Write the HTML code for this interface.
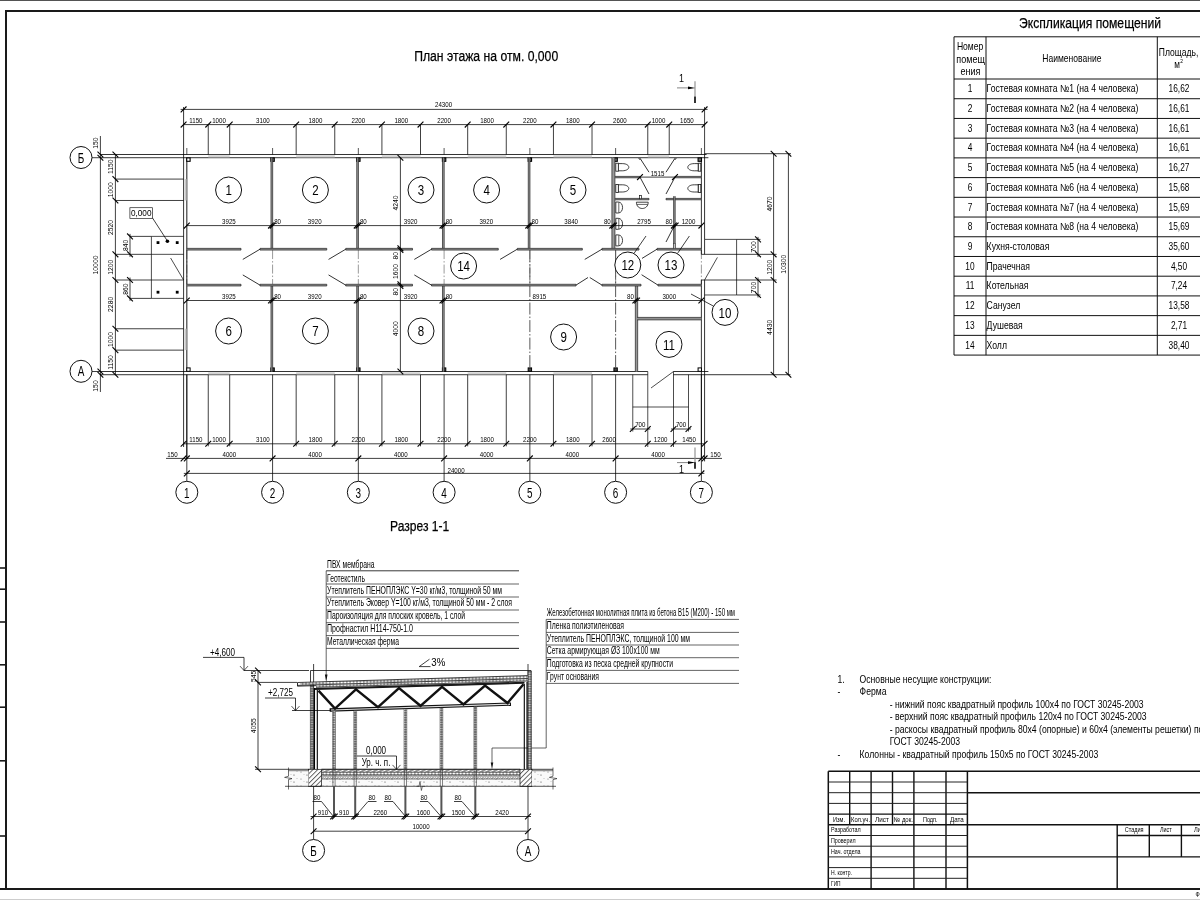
<!DOCTYPE html>
<html lang="ru"><head><meta charset="utf-8"><title>План этажа</title>
<style>
html,body{margin:0;padding:0;background:#fff;}
body{width:1200px;height:900px;overflow:hidden;}
svg{display:block;will-change:transform;font-family:"Liberation Sans",sans-serif;}
</style></head><body>
<svg width="1200" height="900" viewBox="0 0 1200 900">
<rect x="0" y="0" width="1200" height="900" fill="#fff"/>
<g id="frame">
<line x1="0" y1="0.45" x2="1200" y2="0.45" stroke="#333" stroke-width="0.9"/>
<line x1="0" y1="899.6" x2="1200" y2="899.6" stroke="#c8c8c8" stroke-width="1"/>
<path d="M6 889 L6 11.1 L1200 11.1" stroke="#1a1a1a" stroke-width="2" fill="none"/>
<line x1="0" y1="889" x2="1200" y2="889" stroke="#1a1a1a" stroke-width="2"/>
<line x1="0" y1="568" x2="6" y2="568" stroke="#1a1a1a" stroke-width="1.6"/>
<line x1="0" y1="589.2" x2="6" y2="589.2" stroke="#1a1a1a" stroke-width="1.6"/>
<line x1="0" y1="622" x2="6" y2="622" stroke="#1a1a1a" stroke-width="1.6"/>
<line x1="0" y1="664.8" x2="6" y2="664.8" stroke="#1a1a1a" stroke-width="1.6"/>
<line x1="0" y1="707.2" x2="6" y2="707.2" stroke="#1a1a1a" stroke-width="1.6"/>
<line x1="0" y1="760.8" x2="6" y2="760.8" stroke="#1a1a1a" stroke-width="1.6"/>
<line x1="0" y1="836" x2="6" y2="836" stroke="#1a1a1a" stroke-width="1.6"/>
</g>
<g id="titles">
<text x="414.2" y="60.6" font-size="15.2" textLength="144" lengthAdjust="spacingAndGlyphs" fill="#000" stroke="#000" stroke-width="0.25">План этажа на отм. 0,000</text>
<text x="390" y="531" font-size="15.2" textLength="59.3" lengthAdjust="spacingAndGlyphs" fill="#000" stroke="#000" stroke-width="0.25">Разрез 1-1</text>
<text x="1019" y="27.9" font-size="15" textLength="142" lengthAdjust="spacingAndGlyphs" fill="#000" stroke="#000" stroke-width="0.25">Экспликация помещений</text>
</g>
<g id="plan">
<line x1="186.82" y1="148" x2="186.82" y2="154.5" stroke="#111" stroke-width="0.7"/>
<line x1="186.82" y1="374.71" x2="186.82" y2="481.3" stroke="#000" stroke-width="0.75"/>
<line x1="272.58" y1="148" x2="272.58" y2="154.5" stroke="#111" stroke-width="0.7"/>
<line x1="272.58" y1="374.71" x2="272.58" y2="481.3" stroke="#000" stroke-width="0.75"/>
<line x1="358.34" y1="148" x2="358.34" y2="154.5" stroke="#111" stroke-width="0.7"/>
<line x1="358.34" y1="374.71" x2="358.34" y2="481.3" stroke="#000" stroke-width="0.75"/>
<line x1="444.1" y1="148" x2="444.1" y2="154.5" stroke="#111" stroke-width="0.7"/>
<line x1="444.1" y1="374.71" x2="444.1" y2="481.3" stroke="#000" stroke-width="0.75"/>
<line x1="529.86" y1="148" x2="529.86" y2="154.5" stroke="#111" stroke-width="0.7"/>
<line x1="529.86" y1="374.71" x2="529.86" y2="481.3" stroke="#000" stroke-width="0.75"/>
<line x1="615.62" y1="148" x2="615.62" y2="154.5" stroke="#111" stroke-width="0.7"/>
<line x1="615.62" y1="374.71" x2="615.62" y2="481.3" stroke="#000" stroke-width="0.75"/>
<line x1="701.38" y1="148" x2="701.38" y2="154.5" stroke="#111" stroke-width="0.7"/>
<line x1="701.38" y1="374.71" x2="701.38" y2="481.3" stroke="#000" stroke-width="0.75"/>
<line x1="529.86" y1="250.07" x2="529.86" y2="371.51" stroke="#111" stroke-width="0.7" stroke-dasharray="12 2 1.5 2"/>
<line x1="615.62" y1="250.07" x2="615.62" y2="371.51" stroke="#111" stroke-width="0.7" stroke-dasharray="12 2 1.5 2"/>
<line x1="186.82" y1="250.07" x2="186.82" y2="284.28" stroke="#555" stroke-width="0.6" stroke-dasharray="9 2 1.5 2"/>
<line x1="272.58" y1="250.07" x2="272.58" y2="284.28" stroke="#555" stroke-width="0.6" stroke-dasharray="9 2 1.5 2"/>
<line x1="358.34" y1="250.07" x2="358.34" y2="284.28" stroke="#555" stroke-width="0.6" stroke-dasharray="9 2 1.5 2"/>
<line x1="444.1" y1="250.07" x2="444.1" y2="284.28" stroke="#555" stroke-width="0.6" stroke-dasharray="9 2 1.5 2"/>
<line x1="529.86" y1="250.07" x2="529.86" y2="284.28" stroke="#555" stroke-width="0.6" stroke-dasharray="9 2 1.5 2"/>
<line x1="615.62" y1="250.07" x2="615.62" y2="284.28" stroke="#555" stroke-width="0.6" stroke-dasharray="9 2 1.5 2"/>
<line x1="186.82" y1="157.71" x2="186.82" y2="371.51" stroke="#999" stroke-width="0.5"/>
<line x1="701.38" y1="250.07" x2="701.38" y2="284.28" stroke="#555" stroke-width="0.6" stroke-dasharray="9 2 1.5 2"/>
<line x1="100" y1="154.5" x2="706.59" y2="154.5" stroke="#000" stroke-width="0.8"/>
<line x1="100" y1="157.71" x2="186.82" y2="157.71" stroke="#000" stroke-width="0.8"/>
<line x1="186.82" y1="157.71" x2="708.38" y2="157.71" stroke="#000" stroke-width="0.8"/>
<rect x="208.26" y="154.95" width="21.44" height="2.31" stroke="none" stroke-width="0" fill="#f2f2f2"/>
<line x1="208.26" y1="156.1" x2="229.7" y2="156.1" stroke="#888" stroke-width="0.5"/>
<rect x="296.16" y="154.95" width="38.59" height="2.31" stroke="none" stroke-width="0" fill="#f2f2f2"/>
<line x1="296.16" y1="156.1" x2="334.75" y2="156.1" stroke="#888" stroke-width="0.5"/>
<rect x="381.92" y="154.95" width="38.59" height="2.31" stroke="none" stroke-width="0" fill="#f2f2f2"/>
<line x1="381.92" y1="156.1" x2="420.51" y2="156.1" stroke="#888" stroke-width="0.5"/>
<rect x="467.68" y="154.95" width="38.59" height="2.31" stroke="none" stroke-width="0" fill="#f2f2f2"/>
<line x1="467.68" y1="156.1" x2="506.27" y2="156.1" stroke="#888" stroke-width="0.5"/>
<rect x="553.44" y="154.95" width="38.59" height="2.31" stroke="none" stroke-width="0" fill="#f2f2f2"/>
<line x1="553.44" y1="156.1" x2="592.03" y2="156.1" stroke="#888" stroke-width="0.5"/>
<rect x="647.78" y="154.95" width="21.44" height="2.31" stroke="none" stroke-width="0" fill="#f2f2f2"/>
<line x1="647.78" y1="156.1" x2="669.22" y2="156.1" stroke="#888" stroke-width="0.5"/>
<line x1="100" y1="371.51" x2="186.82" y2="371.51" stroke="#000" stroke-width="0.8"/>
<line x1="100" y1="374.71" x2="183.6" y2="374.71" stroke="#000" stroke-width="0.8"/>
<line x1="183.6" y1="374.71" x2="647.78" y2="374.71" stroke="#000" stroke-width="0.8"/>
<line x1="673.5" y1="374.71" x2="790.5" y2="374.71" stroke="#000" stroke-width="0.8"/>
<line x1="186.82" y1="371.51" x2="647.78" y2="371.51" stroke="#000" stroke-width="0.8"/>
<line x1="673.5" y1="371.51" x2="708.38" y2="371.51" stroke="#000" stroke-width="0.8"/>
<rect x="208.26" y="371.96" width="21.44" height="2.31" stroke="none" stroke-width="0" fill="#f2f2f2"/>
<line x1="208.26" y1="373.11" x2="229.7" y2="373.11" stroke="#888" stroke-width="0.5"/>
<rect x="296.16" y="371.96" width="38.59" height="2.31" stroke="none" stroke-width="0" fill="#f2f2f2"/>
<line x1="296.16" y1="373.11" x2="334.75" y2="373.11" stroke="#888" stroke-width="0.5"/>
<rect x="381.92" y="371.96" width="38.59" height="2.31" stroke="none" stroke-width="0" fill="#f2f2f2"/>
<line x1="381.92" y1="373.11" x2="420.51" y2="373.11" stroke="#888" stroke-width="0.5"/>
<rect x="467.68" y="371.96" width="38.59" height="2.31" stroke="none" stroke-width="0" fill="#f2f2f2"/>
<line x1="467.68" y1="373.11" x2="506.27" y2="373.11" stroke="#888" stroke-width="0.5"/>
<rect x="553.44" y="371.96" width="38.59" height="2.31" stroke="none" stroke-width="0" fill="#f2f2f2"/>
<line x1="553.44" y1="373.11" x2="592.03" y2="373.11" stroke="#888" stroke-width="0.5"/>
<line x1="183.6" y1="107" x2="183.6" y2="447" stroke="#000" stroke-width="0.8"/>
<line x1="186.82" y1="157.71" x2="186.82" y2="371.51" stroke="#000" stroke-width="0.8"/>
<line x1="186.82" y1="374.71" x2="186.82" y2="458.4" stroke="#000" stroke-width="0.8"/>
<rect x="184.05" y="179.09" width="2.32" height="21.38" stroke="none" stroke-width="0" fill="#ececec"/>
<line x1="185.21" y1="179.09" x2="185.21" y2="200.47" stroke="#888" stroke-width="0.5"/>
<rect x="184.05" y="328.75" width="2.32" height="21.38" stroke="none" stroke-width="0" fill="#ececec"/>
<line x1="185.21" y1="328.75" x2="185.21" y2="350.13" stroke="#888" stroke-width="0.5"/>
<line x1="704.59" y1="107" x2="704.59" y2="154.5" stroke="#000" stroke-width="0.75"/>
<line x1="704.59" y1="154.5" x2="704.59" y2="239.38" stroke="#000" stroke-width="0.8"/>
<line x1="704.59" y1="294.97" x2="704.59" y2="461.4" stroke="#000" stroke-width="0.8"/>
<line x1="701.38" y1="157.71" x2="701.38" y2="254.34" stroke="#000" stroke-width="0.8"/>
<line x1="701.38" y1="280" x2="701.38" y2="458.4" stroke="#000" stroke-width="0.8"/>
<line x1="704.59" y1="239.38" x2="704.59" y2="254.34" stroke="#000" stroke-width="0.8"/>
<line x1="704.59" y1="280" x2="704.59" y2="294.97" stroke="#000" stroke-width="0.8"/>
<line x1="704.59" y1="153.7" x2="791" y2="153.7" stroke="#000" stroke-width="0.75"/>
<rect x="186.72" y="157.91" width="3.4" height="3.4" stroke="#000" stroke-width="1.1" fill="#fff"/>
<rect x="186.72" y="367.91" width="3.4" height="3.4" stroke="#000" stroke-width="1" fill="#fff"/>
<rect x="270.88" y="157.91" width="3.4" height="3.4" stroke="#000" stroke-width="1.1" fill="#777"/>
<rect x="270.88" y="367.91" width="3.4" height="3.4" stroke="#000" stroke-width="1" fill="#444"/>
<rect x="356.64" y="157.91" width="3.4" height="3.4" stroke="#000" stroke-width="1.1" fill="#777"/>
<rect x="356.64" y="367.91" width="3.4" height="3.4" stroke="#000" stroke-width="1" fill="#444"/>
<rect x="442.4" y="157.91" width="3.4" height="3.4" stroke="#000" stroke-width="1.1" fill="#777"/>
<rect x="442.4" y="367.91" width="3.4" height="3.4" stroke="#000" stroke-width="1" fill="#444"/>
<rect x="528.16" y="157.91" width="3.4" height="3.4" stroke="#000" stroke-width="1.1" fill="#777"/>
<rect x="528.16" y="367.91" width="3.4" height="3.4" stroke="#000" stroke-width="1" fill="#444"/>
<rect x="613.92" y="157.91" width="3.4" height="3.4" stroke="#000" stroke-width="1.1" fill="#777"/>
<rect x="613.92" y="367.91" width="3.4" height="3.4" stroke="#000" stroke-width="1" fill="#444"/>
<rect x="698.08" y="157.91" width="3.4" height="3.4" stroke="#000" stroke-width="1.1" fill="#777"/>
<rect x="698.08" y="367.91" width="3.4" height="3.4" stroke="#000" stroke-width="1" fill="#fff"/>
<rect x="270.97" y="157.71" width="1.72" height="90.65" stroke="none" stroke-width="0" fill="#999"/>
<line x1="270.97" y1="157.71" x2="270.97" y2="248.36" stroke="#222" stroke-width="0.7"/>
<line x1="272.68" y1="157.71" x2="272.68" y2="248.36" stroke="#222" stroke-width="0.7"/>
<rect x="356.73" y="157.71" width="1.72" height="90.65" stroke="none" stroke-width="0" fill="#999"/>
<line x1="356.73" y1="157.71" x2="356.73" y2="248.36" stroke="#222" stroke-width="0.7"/>
<line x1="358.44" y1="157.71" x2="358.44" y2="248.36" stroke="#222" stroke-width="0.7"/>
<rect x="442.49" y="157.71" width="1.72" height="90.65" stroke="none" stroke-width="0" fill="#999"/>
<line x1="442.49" y1="157.71" x2="442.49" y2="248.36" stroke="#222" stroke-width="0.7"/>
<line x1="444.2" y1="157.71" x2="444.2" y2="248.36" stroke="#222" stroke-width="0.7"/>
<rect x="528.25" y="157.71" width="1.72" height="90.65" stroke="none" stroke-width="0" fill="#999"/>
<line x1="528.25" y1="157.71" x2="528.25" y2="248.36" stroke="#222" stroke-width="0.7"/>
<line x1="529.96" y1="157.71" x2="529.96" y2="248.36" stroke="#222" stroke-width="0.7"/>
<rect x="611.89" y="157.71" width="3.02" height="90.65" stroke="none" stroke-width="0" fill="#999"/>
<line x1="611.89" y1="157.71" x2="611.89" y2="248.36" stroke="#222" stroke-width="0.7"/>
<line x1="614.91" y1="157.71" x2="614.91" y2="248.36" stroke="#222" stroke-width="0.7"/>
<rect x="270.97" y="285.99" width="1.72" height="85.52" stroke="none" stroke-width="0" fill="#999"/>
<line x1="270.97" y1="285.99" x2="270.97" y2="371.51" stroke="#222" stroke-width="0.7"/>
<line x1="272.68" y1="285.99" x2="272.68" y2="371.51" stroke="#222" stroke-width="0.7"/>
<rect x="356.73" y="285.99" width="1.72" height="85.52" stroke="none" stroke-width="0" fill="#999"/>
<line x1="356.73" y1="285.99" x2="356.73" y2="371.51" stroke="#222" stroke-width="0.7"/>
<line x1="358.44" y1="285.99" x2="358.44" y2="371.51" stroke="#222" stroke-width="0.7"/>
<rect x="442.49" y="285.99" width="1.72" height="85.52" stroke="none" stroke-width="0" fill="#999"/>
<line x1="442.49" y1="285.99" x2="442.49" y2="371.51" stroke="#222" stroke-width="0.7"/>
<line x1="444.2" y1="285.99" x2="444.2" y2="371.51" stroke="#222" stroke-width="0.7"/>
<rect x="635.34" y="285.99" width="2.32" height="85.52" stroke="none" stroke-width="0" fill="#999"/>
<line x1="635.34" y1="285.99" x2="635.34" y2="371.51" stroke="#222" stroke-width="0.7"/>
<line x1="637.66" y1="285.99" x2="637.66" y2="371.51" stroke="#222" stroke-width="0.7"/>
<rect x="637.06" y="317.4" width="64.32" height="2.5" stroke="none" stroke-width="0" fill="#909090"/>
<line x1="637.06" y1="317.4" x2="701.38" y2="317.4" stroke="#222" stroke-width="0.7"/>
<line x1="637.06" y1="319.9" x2="701.38" y2="319.9" stroke="#222" stroke-width="0.7"/>
<rect x="186.82" y="248.36" width="54.18" height="1.71" stroke="none" stroke-width="0" fill="#909090"/>
<line x1="186.82" y1="248.36" x2="241" y2="248.36" stroke="#222" stroke-width="0.7"/>
<line x1="186.82" y1="250.07" x2="241" y2="250.07" stroke="#222" stroke-width="0.7"/>
<line x1="241" y1="248.36" x2="241" y2="250.07" stroke="#222" stroke-width="0.7"/>
<rect x="260" y="248.36" width="66.76" height="1.71" stroke="none" stroke-width="0" fill="#909090"/>
<line x1="260" y1="248.36" x2="326.76" y2="248.36" stroke="#222" stroke-width="0.7"/>
<line x1="260" y1="250.07" x2="326.76" y2="250.07" stroke="#222" stroke-width="0.7"/>
<line x1="260" y1="248.36" x2="260" y2="250.07" stroke="#222" stroke-width="0.7"/>
<line x1="326.76" y1="248.36" x2="326.76" y2="250.07" stroke="#222" stroke-width="0.7"/>
<rect x="345.76" y="248.36" width="66.76" height="1.71" stroke="none" stroke-width="0" fill="#909090"/>
<line x1="345.76" y1="248.36" x2="412.52" y2="248.36" stroke="#222" stroke-width="0.7"/>
<line x1="345.76" y1="250.07" x2="412.52" y2="250.07" stroke="#222" stroke-width="0.7"/>
<line x1="345.76" y1="248.36" x2="345.76" y2="250.07" stroke="#222" stroke-width="0.7"/>
<line x1="412.52" y1="248.36" x2="412.52" y2="250.07" stroke="#222" stroke-width="0.7"/>
<rect x="431.52" y="248.36" width="66.76" height="1.71" stroke="none" stroke-width="0" fill="#909090"/>
<line x1="431.52" y1="248.36" x2="498.28" y2="248.36" stroke="#222" stroke-width="0.7"/>
<line x1="431.52" y1="250.07" x2="498.28" y2="250.07" stroke="#222" stroke-width="0.7"/>
<line x1="431.52" y1="248.36" x2="431.52" y2="250.07" stroke="#222" stroke-width="0.7"/>
<line x1="498.28" y1="248.36" x2="498.28" y2="250.07" stroke="#222" stroke-width="0.7"/>
<rect x="517.28" y="248.36" width="65.06" height="1.71" stroke="none" stroke-width="0" fill="#909090"/>
<line x1="517.28" y1="248.36" x2="582.34" y2="248.36" stroke="#222" stroke-width="0.7"/>
<line x1="517.28" y1="250.07" x2="582.34" y2="250.07" stroke="#222" stroke-width="0.7"/>
<line x1="517.28" y1="248.36" x2="517.28" y2="250.07" stroke="#222" stroke-width="0.7"/>
<line x1="582.34" y1="248.36" x2="582.34" y2="250.07" stroke="#222" stroke-width="0.7"/>
<rect x="601.94" y="248.36" width="37.06" height="1.71" stroke="none" stroke-width="0" fill="#909090"/>
<line x1="601.94" y1="248.36" x2="639" y2="248.36" stroke="#222" stroke-width="0.7"/>
<line x1="601.94" y1="250.07" x2="639" y2="250.07" stroke="#222" stroke-width="0.7"/>
<line x1="601.94" y1="248.36" x2="601.94" y2="250.07" stroke="#222" stroke-width="0.7"/>
<line x1="639" y1="248.36" x2="639" y2="250.07" stroke="#222" stroke-width="0.7"/>
<rect x="657" y="248.36" width="44.38" height="1.71" stroke="none" stroke-width="0" fill="#909090"/>
<line x1="657" y1="248.36" x2="701.38" y2="248.36" stroke="#222" stroke-width="0.7"/>
<line x1="657" y1="250.07" x2="701.38" y2="250.07" stroke="#222" stroke-width="0.7"/>
<line x1="657" y1="248.36" x2="657" y2="250.07" stroke="#222" stroke-width="0.7"/>
<line x1="260" y1="249.21" x2="242.8" y2="259.41" stroke="#000" stroke-width="0.8"/>
<line x1="345.76" y1="249.21" x2="328.56" y2="259.41" stroke="#000" stroke-width="0.8"/>
<line x1="431.52" y1="249.21" x2="414.32" y2="259.41" stroke="#000" stroke-width="0.8"/>
<line x1="517.28" y1="249.21" x2="500.08" y2="259.41" stroke="#000" stroke-width="0.8"/>
<line x1="601.94" y1="249.21" x2="584.74" y2="259.41" stroke="#000" stroke-width="0.8"/>
<line x1="657" y1="249.21" x2="642" y2="258.41" stroke="#000" stroke-width="0.8"/>
<rect x="186.82" y="284.28" width="54.18" height="1.71" stroke="none" stroke-width="0" fill="#909090"/>
<line x1="186.82" y1="284.28" x2="241" y2="284.28" stroke="#222" stroke-width="0.7"/>
<line x1="186.82" y1="285.99" x2="241" y2="285.99" stroke="#222" stroke-width="0.7"/>
<line x1="241" y1="284.28" x2="241" y2="285.99" stroke="#222" stroke-width="0.7"/>
<rect x="260" y="284.28" width="66.76" height="1.71" stroke="none" stroke-width="0" fill="#909090"/>
<line x1="260" y1="284.28" x2="326.76" y2="284.28" stroke="#222" stroke-width="0.7"/>
<line x1="260" y1="285.99" x2="326.76" y2="285.99" stroke="#222" stroke-width="0.7"/>
<line x1="260" y1="284.28" x2="260" y2="285.99" stroke="#222" stroke-width="0.7"/>
<line x1="326.76" y1="284.28" x2="326.76" y2="285.99" stroke="#222" stroke-width="0.7"/>
<rect x="345.76" y="284.28" width="66.76" height="1.71" stroke="none" stroke-width="0" fill="#909090"/>
<line x1="345.76" y1="284.28" x2="412.52" y2="284.28" stroke="#222" stroke-width="0.7"/>
<line x1="345.76" y1="285.99" x2="412.52" y2="285.99" stroke="#222" stroke-width="0.7"/>
<line x1="345.76" y1="284.28" x2="345.76" y2="285.99" stroke="#222" stroke-width="0.7"/>
<line x1="412.52" y1="284.28" x2="412.52" y2="285.99" stroke="#222" stroke-width="0.7"/>
<rect x="431.52" y="284.28" width="144.48" height="1.71" stroke="none" stroke-width="0" fill="#909090"/>
<line x1="431.52" y1="284.28" x2="576" y2="284.28" stroke="#222" stroke-width="0.7"/>
<line x1="431.52" y1="285.99" x2="576" y2="285.99" stroke="#222" stroke-width="0.7"/>
<line x1="431.52" y1="284.28" x2="431.52" y2="285.99" stroke="#222" stroke-width="0.7"/>
<line x1="576" y1="284.28" x2="576" y2="285.99" stroke="#222" stroke-width="0.7"/>
<rect x="602" y="284.28" width="39" height="1.71" stroke="none" stroke-width="0" fill="#909090"/>
<line x1="602" y1="284.28" x2="641" y2="284.28" stroke="#222" stroke-width="0.7"/>
<line x1="602" y1="285.99" x2="641" y2="285.99" stroke="#222" stroke-width="0.7"/>
<line x1="602" y1="284.28" x2="602" y2="285.99" stroke="#222" stroke-width="0.7"/>
<line x1="641" y1="284.28" x2="641" y2="285.99" stroke="#222" stroke-width="0.7"/>
<rect x="658" y="284.28" width="43.38" height="1.71" stroke="none" stroke-width="0" fill="#909090"/>
<line x1="658" y1="284.28" x2="701.38" y2="284.28" stroke="#222" stroke-width="0.7"/>
<line x1="658" y1="285.99" x2="701.38" y2="285.99" stroke="#222" stroke-width="0.7"/>
<line x1="658" y1="284.28" x2="658" y2="285.99" stroke="#222" stroke-width="0.7"/>
<line x1="260" y1="285.13" x2="242.8" y2="274.93" stroke="#000" stroke-width="0.8"/>
<line x1="345.76" y1="285.13" x2="328.56" y2="274.93" stroke="#000" stroke-width="0.8"/>
<line x1="431.52" y1="285.13" x2="414.32" y2="274.93" stroke="#000" stroke-width="0.8"/>
<line x1="576" y1="285.13" x2="588" y2="277.53" stroke="#000" stroke-width="0.8"/>
<line x1="602" y1="285.13" x2="589.8" y2="277.53" stroke="#000" stroke-width="0.8"/>
<line x1="658" y1="285.13" x2="641.6" y2="274.73" stroke="#000" stroke-width="0.8"/>
<rect x="614.91" y="176.4" width="25.09" height="1.4" stroke="none" stroke-width="0" fill="#909090"/>
<line x1="614.91" y1="176.4" x2="640" y2="176.4" stroke="#222" stroke-width="0.7"/>
<line x1="614.91" y1="177.8" x2="640" y2="177.8" stroke="#222" stroke-width="0.7"/>
<line x1="640" y1="176.4" x2="640" y2="177.8" stroke="#222" stroke-width="0.7"/>
<rect x="675" y="176.4" width="26.38" height="1.4" stroke="none" stroke-width="0" fill="#909090"/>
<line x1="675" y1="176.4" x2="701.38" y2="176.4" stroke="#222" stroke-width="0.7"/>
<line x1="675" y1="177.8" x2="701.38" y2="177.8" stroke="#222" stroke-width="0.7"/>
<line x1="675" y1="176.4" x2="675" y2="177.8" stroke="#222" stroke-width="0.7"/>
<rect x="614.91" y="198.4" width="34.09" height="1.4" stroke="none" stroke-width="0" fill="#909090"/>
<line x1="614.91" y1="198.4" x2="649" y2="198.4" stroke="#222" stroke-width="0.7"/>
<line x1="614.91" y1="199.8" x2="649" y2="199.8" stroke="#222" stroke-width="0.7"/>
<line x1="649" y1="198.4" x2="649" y2="199.8" stroke="#222" stroke-width="0.7"/>
<rect x="666" y="198.4" width="35.38" height="1.4" stroke="none" stroke-width="0" fill="#909090"/>
<line x1="666" y1="198.4" x2="701.38" y2="198.4" stroke="#222" stroke-width="0.7"/>
<line x1="666" y1="199.8" x2="701.38" y2="199.8" stroke="#222" stroke-width="0.7"/>
<line x1="666" y1="198.4" x2="666" y2="199.8" stroke="#222" stroke-width="0.7"/>
<rect x="673.6" y="196.2" width="1.6" height="52.16" stroke="none" stroke-width="0" fill="#999"/>
<line x1="673.6" y1="196.2" x2="673.6" y2="248.36" stroke="#222" stroke-width="0.7"/>
<line x1="675.2" y1="196.2" x2="675.2" y2="248.36" stroke="#222" stroke-width="0.7"/>
<rect x="673.6" y="243.4" width="1.6" height="4.96" stroke="#333" stroke-width="0.5" fill="#ccc"/>
<line x1="640" y1="158.2" x2="649" y2="172.2" stroke="#000" stroke-width="0.8"/>
<line x1="675" y1="158.2" x2="666" y2="172.2" stroke="#000" stroke-width="0.8"/>
<line x1="638.6" y1="158" x2="640.2" y2="160" stroke="#000" stroke-width="0.7"/>
<line x1="676.4" y1="158" x2="674.8" y2="160" stroke="#000" stroke-width="0.7"/>
<line x1="640" y1="177.2" x2="649" y2="194" stroke="#000" stroke-width="0.8"/>
<line x1="675" y1="177.2" x2="666" y2="194" stroke="#000" stroke-width="0.8"/>
<line x1="674.4" y1="225.6" x2="666" y2="242" stroke="#000" stroke-width="0.8"/>
<rect x="615.8" y="163.2" width="2.6" height="8" stroke="#111" stroke-width="0.8" fill="#fff"/>
<path d="M618.4 163.6 L622.3 163.6 C626.8 163.6 628.8 165.6 628.8 167.2 C628.8 168.8 626.8 170.8 622.3 170.8 L618.4 170.8 Z" stroke="#111" stroke-width="0.8" fill="#fff"/>
<rect x="615.8" y="184.4" width="2.6" height="8" stroke="#111" stroke-width="0.8" fill="#fff"/>
<path d="M618.4 184.8 L622.3 184.8 C626.8 184.8 628.8 186.8 628.8 188.4 C628.8 190 626.8 192 622.3 192 L618.4 192 Z" stroke="#111" stroke-width="0.8" fill="#fff"/>
<rect x="698.2" y="163.2" width="2.6" height="8" stroke="#111" stroke-width="0.8" fill="#fff"/>
<path d="M698.2 163.6 L694.3 163.6 C689.8 163.6 687.8 165.6 687.8 167.2 C687.8 168.8 689.8 170.8 694.3 170.8 L698.2 170.8 Z" stroke="#111" stroke-width="0.8" fill="#fff"/>
<rect x="698.2" y="184.4" width="2.6" height="8" stroke="#111" stroke-width="0.8" fill="#fff"/>
<path d="M698.2 184.8 L694.3 184.8 C689.8 184.8 687.8 186.8 687.8 188.4 C687.8 190 689.8 192 694.3 192 L698.2 192 Z" stroke="#111" stroke-width="0.8" fill="#fff"/>
<path d="M615.8 202 L618.2 202 C624 202 624 213 618.2 213 L615.8 213 Z" stroke="#111" stroke-width="0.8" fill="#fff"/>
<line x1="618.8" y1="202.3" x2="618.8" y2="212.7" stroke="#222" stroke-width="0.7"/>
<path d="M615.8 218.3 L618.2 218.3 C624 218.3 624 229.3 618.2 229.3 L615.8 229.3 Z" stroke="#111" stroke-width="0.8" fill="#fff"/>
<line x1="618.8" y1="218.6" x2="618.8" y2="229" stroke="#222" stroke-width="0.7"/>
<path d="M615.8 234.9 L618.2 234.9 C624 234.9 624 245.9 618.2 245.9 L615.8 245.9 Z" stroke="#111" stroke-width="0.8" fill="#fff"/>
<line x1="618.8" y1="235.2" x2="618.8" y2="245.6" stroke="#222" stroke-width="0.7"/>
<path d="M636.4 202.2 L648.2 202.2 C648.2 210.6 636.4 210.6 636.4 202.2 Z" stroke="#111" stroke-width="0.8" fill="#fff"/>
<line x1="637" y1="204.4" x2="647.6" y2="204.4" stroke="#222" stroke-width="0.7"/>
<rect x="639.6" y="195.6" width="2" height="3.2" stroke="#111" stroke-width="0.7" fill="#fff"/>
<line x1="151.4" y1="236.39" x2="183.6" y2="236.39" stroke="#000" stroke-width="0.7"/>
<line x1="151.4" y1="254.34" x2="183.6" y2="254.34" stroke="#000" stroke-width="0.7"/>
<line x1="151.4" y1="280" x2="183.6" y2="280" stroke="#000" stroke-width="0.7"/>
<line x1="151.4" y1="298.39" x2="183.6" y2="298.39" stroke="#000" stroke-width="0.7"/>
<line x1="151.4" y1="236.39" x2="151.4" y2="298.39" stroke="#000" stroke-width="0.7"/>
<rect x="156.6" y="241.2" width="2.8" height="2.8" stroke="none" stroke-width="0" fill="#000"/>
<rect x="175.8" y="241.2" width="2.8" height="2.8" stroke="none" stroke-width="0" fill="#000"/>
<rect x="156.6" y="290.8" width="2.8" height="2.8" stroke="none" stroke-width="0" fill="#000"/>
<rect x="175.8" y="290.8" width="2.8" height="2.8" stroke="none" stroke-width="0" fill="#000"/>
<circle cx="167.4" cy="241.2" r="1.8" stroke="none" stroke-width="0" fill="#000"/>
<line x1="170.6" y1="258" x2="183.6" y2="280" stroke="#000" stroke-width="0.7"/>
<rect x="129.9" y="207.7" width="22.5" height="10.7" stroke="#222" stroke-width="0.7" fill="#fff"/>
<text transform="translate(141.2 216.2) scale(0.84 1)" font-size="9.8" text-anchor="middle" fill="#000">0,000</text>
<line x1="152.4" y1="217.8" x2="167.4" y2="241" stroke="#000" stroke-width="0.75"/>
<line x1="704.59" y1="239.38" x2="736.6" y2="239.38" stroke="#000" stroke-width="0.7"/>
<line x1="704.59" y1="294.97" x2="736.6" y2="294.97" stroke="#000" stroke-width="0.7"/>
<line x1="736.6" y1="239.38" x2="736.6" y2="294.97" stroke="#000" stroke-width="0.7"/>
<line x1="701.38" y1="254.34" x2="776.6" y2="254.34" stroke="#000" stroke-width="0.75"/>
<line x1="701.38" y1="280" x2="776.6" y2="280" stroke="#000" stroke-width="0.75"/>
<line x1="736.6" y1="239.38" x2="760.5" y2="239.38" stroke="#000" stroke-width="0.75"/>
<line x1="736.6" y1="294.97" x2="760.5" y2="294.97" stroke="#000" stroke-width="0.75"/>
<line x1="704.59" y1="280" x2="717.4" y2="257.4" stroke="#000" stroke-width="0.7"/>
<line x1="632.77" y1="374.71" x2="632.77" y2="431.5" stroke="#000" stroke-width="0.7"/>
<line x1="688.51" y1="374.71" x2="688.51" y2="431.5" stroke="#000" stroke-width="0.7"/>
<line x1="632.77" y1="407" x2="688.51" y2="407" stroke="#000" stroke-width="0.7"/>
<line x1="647.78" y1="371.51" x2="647.78" y2="447" stroke="#000" stroke-width="0.7"/>
<line x1="673.5" y1="371.51" x2="673.5" y2="447" stroke="#000" stroke-width="0.7"/>
<line x1="673.5" y1="371.51" x2="651" y2="388" stroke="#000" stroke-width="0.7"/>
<line x1="691" y1="294" x2="713.6" y2="306.2" stroke="#000" stroke-width="0.75"/>
<line x1="634" y1="253.4" x2="646" y2="236" stroke="#000" stroke-width="0.75"/>
<line x1="677.4" y1="253.6" x2="689.4" y2="236" stroke="#000" stroke-width="0.75"/>
<circle cx="228.6" cy="190" r="13" stroke="#111" stroke-width="1" fill="#fff"/>
<text transform="translate(228.6 195.2) scale(0.8 1)" font-size="14.4" text-anchor="middle" fill="#000">1</text>
<circle cx="315.4" cy="190" r="13" stroke="#111" stroke-width="1" fill="#fff"/>
<text transform="translate(315.4 195.2) scale(0.8 1)" font-size="14.4" text-anchor="middle" fill="#000">2</text>
<circle cx="421" cy="190" r="13" stroke="#111" stroke-width="1" fill="#fff"/>
<text transform="translate(421 195.2) scale(0.8 1)" font-size="14.4" text-anchor="middle" fill="#000">3</text>
<circle cx="486.6" cy="190" r="13" stroke="#111" stroke-width="1" fill="#fff"/>
<text transform="translate(486.6 195.2) scale(0.8 1)" font-size="14.4" text-anchor="middle" fill="#000">4</text>
<circle cx="573" cy="190" r="13" stroke="#111" stroke-width="1" fill="#fff"/>
<text transform="translate(573 195.2) scale(0.8 1)" font-size="14.4" text-anchor="middle" fill="#000">5</text>
<circle cx="228.6" cy="331" r="13" stroke="#111" stroke-width="1" fill="#fff"/>
<text transform="translate(228.6 336.2) scale(0.8 1)" font-size="14.4" text-anchor="middle" fill="#000">6</text>
<circle cx="315.4" cy="331" r="13" stroke="#111" stroke-width="1" fill="#fff"/>
<text transform="translate(315.4 336.2) scale(0.8 1)" font-size="14.4" text-anchor="middle" fill="#000">7</text>
<circle cx="421" cy="331" r="13" stroke="#111" stroke-width="1" fill="#fff"/>
<text transform="translate(421 336.2) scale(0.8 1)" font-size="14.4" text-anchor="middle" fill="#000">8</text>
<circle cx="563.6" cy="337" r="13" stroke="#111" stroke-width="1" fill="#fff"/>
<text transform="translate(563.6 342.2) scale(0.8 1)" font-size="14.4" text-anchor="middle" fill="#000">9</text>
<circle cx="725" cy="312.4" r="13" stroke="#111" stroke-width="1" fill="#fff"/>
<text transform="translate(725 317.6) scale(0.8 1)" font-size="14.4" text-anchor="middle" fill="#000">10</text>
<circle cx="669" cy="344.4" r="13" stroke="#111" stroke-width="1" fill="#fff"/>
<text transform="translate(669 349.6) scale(0.8 1)" font-size="14.4" text-anchor="middle" fill="#000">11</text>
<circle cx="627.8" cy="265" r="13" stroke="#111" stroke-width="1" fill="#fff"/>
<text transform="translate(627.8 270.2) scale(0.8 1)" font-size="14.4" text-anchor="middle" fill="#000">12</text>
<circle cx="671" cy="265" r="13" stroke="#111" stroke-width="1" fill="#fff"/>
<text transform="translate(671 270.2) scale(0.8 1)" font-size="14.4" text-anchor="middle" fill="#000">13</text>
<circle cx="463.6" cy="266" r="13" stroke="#111" stroke-width="1" fill="#fff"/>
<text transform="translate(463.6 271.2) scale(0.8 1)" font-size="14.4" text-anchor="middle" fill="#000">14</text>
<line x1="180.6" y1="109.4" x2="707.59" y2="109.4" stroke="#000" stroke-width="0.75"/>
<line x1="180.7" y1="112.3" x2="186.5" y2="106.5" stroke="#000" stroke-width="1.1"/>
<line x1="701.69" y1="112.3" x2="707.49" y2="106.5" stroke="#000" stroke-width="1.1"/>
<text transform="translate(443.5 107.4) scale(0.92 1)" font-size="6.7" text-anchor="middle" fill="#000">24300</text>
<line x1="183.6" y1="124.6" x2="704.59" y2="124.6" stroke="#000" stroke-width="0.75"/>
<line x1="180.7" y1="127.5" x2="186.5" y2="121.7" stroke="#000" stroke-width="1.1"/>
<line x1="205.36" y1="127.5" x2="211.16" y2="121.7" stroke="#000" stroke-width="1.1"/>
<line x1="226.8" y1="127.5" x2="232.6" y2="121.7" stroke="#000" stroke-width="1.1"/>
<line x1="293.26" y1="127.5" x2="299.06" y2="121.7" stroke="#000" stroke-width="1.1"/>
<line x1="331.85" y1="127.5" x2="337.65" y2="121.7" stroke="#000" stroke-width="1.1"/>
<line x1="379.02" y1="127.5" x2="384.82" y2="121.7" stroke="#000" stroke-width="1.1"/>
<line x1="417.61" y1="127.5" x2="423.41" y2="121.7" stroke="#000" stroke-width="1.1"/>
<line x1="464.78" y1="127.5" x2="470.58" y2="121.7" stroke="#000" stroke-width="1.1"/>
<line x1="503.37" y1="127.5" x2="509.17" y2="121.7" stroke="#000" stroke-width="1.1"/>
<line x1="550.54" y1="127.5" x2="556.34" y2="121.7" stroke="#000" stroke-width="1.1"/>
<line x1="589.13" y1="127.5" x2="594.93" y2="121.7" stroke="#000" stroke-width="1.1"/>
<line x1="644.88" y1="127.5" x2="650.68" y2="121.7" stroke="#000" stroke-width="1.1"/>
<line x1="666.32" y1="127.5" x2="672.12" y2="121.7" stroke="#000" stroke-width="1.1"/>
<line x1="701.69" y1="127.5" x2="707.49" y2="121.7" stroke="#000" stroke-width="1.1"/>
<text transform="translate(195.93 122.9) scale(0.92 1)" font-size="6.7" text-anchor="middle" fill="#000">1150</text>
<text transform="translate(218.98 122.9) scale(0.92 1)" font-size="6.7" text-anchor="middle" fill="#000">1000</text>
<text transform="translate(262.93 122.9) scale(0.92 1)" font-size="6.7" text-anchor="middle" fill="#000">3100</text>
<text transform="translate(315.46 122.9) scale(0.92 1)" font-size="6.7" text-anchor="middle" fill="#000">1800</text>
<text transform="translate(358.34 122.9) scale(0.92 1)" font-size="6.7" text-anchor="middle" fill="#000">2200</text>
<text transform="translate(401.22 122.9) scale(0.92 1)" font-size="6.7" text-anchor="middle" fill="#000">1800</text>
<text transform="translate(444.1 122.9) scale(0.92 1)" font-size="6.7" text-anchor="middle" fill="#000">2200</text>
<text transform="translate(486.98 122.9) scale(0.92 1)" font-size="6.7" text-anchor="middle" fill="#000">1800</text>
<text transform="translate(529.86 122.9) scale(0.92 1)" font-size="6.7" text-anchor="middle" fill="#000">2200</text>
<text transform="translate(572.74 122.9) scale(0.92 1)" font-size="6.7" text-anchor="middle" fill="#000">1800</text>
<text transform="translate(619.9 122.9) scale(0.92 1)" font-size="6.7" text-anchor="middle" fill="#000">2600</text>
<text transform="translate(658.5 122.9) scale(0.92 1)" font-size="6.7" text-anchor="middle" fill="#000">1000</text>
<text transform="translate(686.9 122.9) scale(0.92 1)" font-size="6.7" text-anchor="middle" fill="#000">1650</text>
<line x1="208.26" y1="124.6" x2="208.26" y2="154.5" stroke="#000" stroke-width="0.75"/>
<line x1="229.7" y1="124.6" x2="229.7" y2="154.5" stroke="#000" stroke-width="0.75"/>
<line x1="296.16" y1="124.6" x2="296.16" y2="154.5" stroke="#000" stroke-width="0.75"/>
<line x1="334.75" y1="124.6" x2="334.75" y2="154.5" stroke="#000" stroke-width="0.75"/>
<line x1="381.92" y1="124.6" x2="381.92" y2="154.5" stroke="#000" stroke-width="0.75"/>
<line x1="420.51" y1="124.6" x2="420.51" y2="154.5" stroke="#000" stroke-width="0.75"/>
<line x1="467.68" y1="124.6" x2="467.68" y2="154.5" stroke="#000" stroke-width="0.75"/>
<line x1="506.27" y1="124.6" x2="506.27" y2="154.5" stroke="#000" stroke-width="0.75"/>
<line x1="553.44" y1="124.6" x2="553.44" y2="154.5" stroke="#000" stroke-width="0.75"/>
<line x1="592.03" y1="124.6" x2="592.03" y2="154.5" stroke="#000" stroke-width="0.75"/>
<line x1="647.78" y1="124.6" x2="647.78" y2="154.5" stroke="#000" stroke-width="0.75"/>
<line x1="669.22" y1="124.6" x2="669.22" y2="154.5" stroke="#000" stroke-width="0.75"/>
<line x1="183.6" y1="443.8" x2="704.59" y2="443.8" stroke="#000" stroke-width="0.75"/>
<line x1="180.7" y1="446.7" x2="186.5" y2="440.9" stroke="#000" stroke-width="1.1"/>
<line x1="205.36" y1="446.7" x2="211.16" y2="440.9" stroke="#000" stroke-width="1.1"/>
<line x1="226.8" y1="446.7" x2="232.6" y2="440.9" stroke="#000" stroke-width="1.1"/>
<line x1="293.26" y1="446.7" x2="299.06" y2="440.9" stroke="#000" stroke-width="1.1"/>
<line x1="331.85" y1="446.7" x2="337.65" y2="440.9" stroke="#000" stroke-width="1.1"/>
<line x1="379.02" y1="446.7" x2="384.82" y2="440.9" stroke="#000" stroke-width="1.1"/>
<line x1="417.61" y1="446.7" x2="423.41" y2="440.9" stroke="#000" stroke-width="1.1"/>
<line x1="464.78" y1="446.7" x2="470.58" y2="440.9" stroke="#000" stroke-width="1.1"/>
<line x1="503.37" y1="446.7" x2="509.17" y2="440.9" stroke="#000" stroke-width="1.1"/>
<line x1="550.54" y1="446.7" x2="556.34" y2="440.9" stroke="#000" stroke-width="1.1"/>
<line x1="589.13" y1="446.7" x2="594.93" y2="440.9" stroke="#000" stroke-width="1.1"/>
<line x1="644.88" y1="446.7" x2="650.68" y2="440.9" stroke="#000" stroke-width="1.1"/>
<line x1="670.6" y1="446.7" x2="676.4" y2="440.9" stroke="#000" stroke-width="1.1"/>
<line x1="701.69" y1="446.7" x2="707.49" y2="440.9" stroke="#000" stroke-width="1.1"/>
<text transform="translate(195.93 442.1) scale(0.92 1)" font-size="6.7" text-anchor="middle" fill="#000">1150</text>
<text transform="translate(218.98 442.1) scale(0.92 1)" font-size="6.7" text-anchor="middle" fill="#000">1000</text>
<text transform="translate(262.93 442.1) scale(0.92 1)" font-size="6.7" text-anchor="middle" fill="#000">3100</text>
<text transform="translate(315.46 442.1) scale(0.92 1)" font-size="6.7" text-anchor="middle" fill="#000">1800</text>
<text transform="translate(358.34 442.1) scale(0.92 1)" font-size="6.7" text-anchor="middle" fill="#000">2200</text>
<text transform="translate(401.22 442.1) scale(0.92 1)" font-size="6.7" text-anchor="middle" fill="#000">1800</text>
<text transform="translate(444.1 442.1) scale(0.92 1)" font-size="6.7" text-anchor="middle" fill="#000">2200</text>
<text transform="translate(486.98 442.1) scale(0.92 1)" font-size="6.7" text-anchor="middle" fill="#000">1800</text>
<text transform="translate(529.86 442.1) scale(0.92 1)" font-size="6.7" text-anchor="middle" fill="#000">2200</text>
<text transform="translate(572.74 442.1) scale(0.92 1)" font-size="6.7" text-anchor="middle" fill="#000">1800</text>
<text transform="translate(609.1 442.1) scale(0.92 1)" font-size="6.7" text-anchor="middle" fill="#000">2600</text>
<text transform="translate(660.64 442.1) scale(0.92 1)" font-size="6.7" text-anchor="middle" fill="#000">1200</text>
<text transform="translate(689.05 442.1) scale(0.92 1)" font-size="6.7" text-anchor="middle" fill="#000">1450</text>
<line x1="208.26" y1="374.71" x2="208.26" y2="446.3" stroke="#000" stroke-width="0.75"/>
<line x1="229.7" y1="374.71" x2="229.7" y2="446.3" stroke="#000" stroke-width="0.75"/>
<line x1="296.16" y1="374.71" x2="296.16" y2="446.3" stroke="#000" stroke-width="0.75"/>
<line x1="334.75" y1="374.71" x2="334.75" y2="446.3" stroke="#000" stroke-width="0.75"/>
<line x1="381.92" y1="374.71" x2="381.92" y2="446.3" stroke="#000" stroke-width="0.75"/>
<line x1="420.51" y1="374.71" x2="420.51" y2="446.3" stroke="#000" stroke-width="0.75"/>
<line x1="467.68" y1="374.71" x2="467.68" y2="446.3" stroke="#000" stroke-width="0.75"/>
<line x1="506.27" y1="374.71" x2="506.27" y2="446.3" stroke="#000" stroke-width="0.75"/>
<line x1="553.44" y1="374.71" x2="553.44" y2="446.3" stroke="#000" stroke-width="0.75"/>
<line x1="592.03" y1="374.71" x2="592.03" y2="446.3" stroke="#000" stroke-width="0.75"/>
<line x1="166" y1="458.4" x2="722" y2="458.4" stroke="#000" stroke-width="0.75"/>
<line x1="180.7" y1="461.3" x2="186.5" y2="455.5" stroke="#000" stroke-width="1.1"/>
<line x1="183.92" y1="461.3" x2="189.72" y2="455.5" stroke="#000" stroke-width="1.1"/>
<line x1="269.68" y1="461.3" x2="275.48" y2="455.5" stroke="#000" stroke-width="1.1"/>
<line x1="355.44" y1="461.3" x2="361.24" y2="455.5" stroke="#000" stroke-width="1.1"/>
<line x1="441.2" y1="461.3" x2="447" y2="455.5" stroke="#000" stroke-width="1.1"/>
<line x1="526.96" y1="461.3" x2="532.76" y2="455.5" stroke="#000" stroke-width="1.1"/>
<line x1="612.72" y1="461.3" x2="618.52" y2="455.5" stroke="#000" stroke-width="1.1"/>
<line x1="698.48" y1="461.3" x2="704.28" y2="455.5" stroke="#000" stroke-width="1.1"/>
<line x1="701.69" y1="461.3" x2="707.49" y2="455.5" stroke="#000" stroke-width="1.1"/>
<text transform="translate(229.3 457.2) scale(0.92 1)" font-size="6.7" text-anchor="middle" fill="#000">4000</text>
<text transform="translate(315.06 457.2) scale(0.92 1)" font-size="6.7" text-anchor="middle" fill="#000">4000</text>
<text transform="translate(400.82 457.2) scale(0.92 1)" font-size="6.7" text-anchor="middle" fill="#000">4000</text>
<text transform="translate(486.58 457.2) scale(0.92 1)" font-size="6.7" text-anchor="middle" fill="#000">4000</text>
<text transform="translate(572.34 457.2) scale(0.92 1)" font-size="6.7" text-anchor="middle" fill="#000">4000</text>
<text transform="translate(658.1 457.2) scale(0.92 1)" font-size="6.7" text-anchor="middle" fill="#000">4000</text>
<text transform="translate(172.5 457.2) scale(0.92 1)" font-size="6.7" text-anchor="middle" fill="#000">150</text>
<text transform="translate(715.5 457.2) scale(0.92 1)" font-size="6.7" text-anchor="middle" fill="#000">150</text>
<line x1="183.82" y1="473.4" x2="704.38" y2="473.4" stroke="#000" stroke-width="0.75"/>
<line x1="183.92" y1="476.3" x2="189.72" y2="470.5" stroke="#000" stroke-width="1.1"/>
<line x1="698.48" y1="476.3" x2="704.28" y2="470.5" stroke="#000" stroke-width="1.1"/>
<text transform="translate(456 472.5) scale(0.92 1)" font-size="6.7" text-anchor="middle" fill="#000">24000</text>
<line x1="630.27" y1="429" x2="650.28" y2="429" stroke="#000" stroke-width="0.75"/>
<line x1="629.87" y1="431.9" x2="635.67" y2="426.1" stroke="#000" stroke-width="1.1"/>
<line x1="644.88" y1="431.9" x2="650.68" y2="426.1" stroke="#000" stroke-width="1.1"/>
<text transform="translate(640.27 427.3) scale(0.92 1)" font-size="6.7" text-anchor="middle" fill="#000">700</text>
<line x1="671" y1="429" x2="691.01" y2="429" stroke="#000" stroke-width="0.75"/>
<line x1="670.6" y1="431.9" x2="676.4" y2="426.1" stroke="#000" stroke-width="1.1"/>
<line x1="685.61" y1="431.9" x2="691.41" y2="426.1" stroke="#000" stroke-width="1.1"/>
<text transform="translate(681.01 427.3) scale(0.92 1)" font-size="6.7" text-anchor="middle" fill="#000">700</text>
<circle cx="186.82" cy="492.3" r="11" stroke="#111" stroke-width="1" fill="#fff"/>
<text transform="translate(186.82 497.5) scale(0.68 1)" font-size="14.6" text-anchor="middle" fill="#000">1</text>
<circle cx="272.58" cy="492.3" r="11" stroke="#111" stroke-width="1" fill="#fff"/>
<text transform="translate(272.58 497.5) scale(0.68 1)" font-size="14.6" text-anchor="middle" fill="#000">2</text>
<circle cx="358.34" cy="492.3" r="11" stroke="#111" stroke-width="1" fill="#fff"/>
<text transform="translate(358.34 497.5) scale(0.68 1)" font-size="14.6" text-anchor="middle" fill="#000">3</text>
<circle cx="444.1" cy="492.3" r="11" stroke="#111" stroke-width="1" fill="#fff"/>
<text transform="translate(444.1 497.5) scale(0.68 1)" font-size="14.6" text-anchor="middle" fill="#000">4</text>
<circle cx="529.86" cy="492.3" r="11" stroke="#111" stroke-width="1" fill="#fff"/>
<text transform="translate(529.86 497.5) scale(0.68 1)" font-size="14.6" text-anchor="middle" fill="#000">5</text>
<circle cx="615.62" cy="492.3" r="11" stroke="#111" stroke-width="1" fill="#fff"/>
<text transform="translate(615.62 497.5) scale(0.68 1)" font-size="14.6" text-anchor="middle" fill="#000">6</text>
<circle cx="701.38" cy="492.3" r="11" stroke="#111" stroke-width="1" fill="#fff"/>
<text transform="translate(701.38 497.5) scale(0.68 1)" font-size="14.6" text-anchor="middle" fill="#000">7</text>
<circle cx="81" cy="157.51" r="11" stroke="#111" stroke-width="1" fill="#fff"/>
<text transform="translate(81 162.61) scale(0.68 1)" font-size="14.6" text-anchor="middle" fill="#000">Б</text>
<line x1="92" y1="157.71" x2="100" y2="157.71" stroke="#000" stroke-width="0.75"/>
<circle cx="81" cy="371.31" r="11" stroke="#111" stroke-width="1" fill="#fff"/>
<text transform="translate(81 376.41) scale(0.68 1)" font-size="14.6" text-anchor="middle" fill="#000">А</text>
<line x1="92" y1="371.51" x2="100" y2="371.51" stroke="#000" stroke-width="0.75"/>
<line x1="100.4" y1="136" x2="100.4" y2="392" stroke="#000" stroke-width="0.75"/>
<line x1="97.5" y1="151.6" x2="103.3" y2="157.4" stroke="#000" stroke-width="1.1"/>
<line x1="97.5" y1="154.81" x2="103.3" y2="160.61" stroke="#000" stroke-width="1.1"/>
<line x1="97.5" y1="368.61" x2="103.3" y2="374.41" stroke="#000" stroke-width="1.1"/>
<line x1="97.5" y1="371.81" x2="103.3" y2="377.61" stroke="#000" stroke-width="1.1"/>
<text transform="translate(98.2 143.2) rotate(-90) scale(0.97 1)" font-size="7" text-anchor="middle" fill="#000">150</text>
<text transform="translate(98.2 386) rotate(-90) scale(0.97 1)" font-size="7" text-anchor="middle" fill="#000">150</text>
<text transform="translate(98.2 265) rotate(-90) scale(0.97 1)" font-size="7" text-anchor="middle" fill="#000">10000</text>
<line x1="115.4" y1="154.5" x2="115.4" y2="374.71" stroke="#000" stroke-width="0.75"/>
<line x1="112.5" y1="151.6" x2="118.3" y2="157.4" stroke="#000" stroke-width="1.1"/>
<line x1="112.5" y1="176.19" x2="118.3" y2="181.99" stroke="#000" stroke-width="1.1"/>
<line x1="112.5" y1="197.57" x2="118.3" y2="203.37" stroke="#000" stroke-width="1.1"/>
<line x1="112.5" y1="251.44" x2="118.3" y2="257.24" stroke="#000" stroke-width="1.1"/>
<line x1="112.5" y1="277.1" x2="118.3" y2="282.9" stroke="#000" stroke-width="1.1"/>
<line x1="112.5" y1="325.85" x2="118.3" y2="331.65" stroke="#000" stroke-width="1.1"/>
<line x1="112.5" y1="347.23" x2="118.3" y2="353.03" stroke="#000" stroke-width="1.1"/>
<line x1="112.5" y1="371.81" x2="118.3" y2="377.61" stroke="#000" stroke-width="1.1"/>
<text transform="translate(113.4 166.79) rotate(-90) scale(0.97 1)" font-size="7" text-anchor="middle" fill="#000">1150</text>
<text transform="translate(113.4 189.78) rotate(-90) scale(0.97 1)" font-size="7" text-anchor="middle" fill="#000">1000</text>
<text transform="translate(113.4 227.41) rotate(-90) scale(0.97 1)" font-size="7" text-anchor="middle" fill="#000">2520</text>
<text transform="translate(113.4 267.17) rotate(-90) scale(0.97 1)" font-size="7" text-anchor="middle" fill="#000">1200</text>
<text transform="translate(113.4 304.37) rotate(-90) scale(0.97 1)" font-size="7" text-anchor="middle" fill="#000">2280</text>
<text transform="translate(113.4 339.44) rotate(-90) scale(0.97 1)" font-size="7" text-anchor="middle" fill="#000">1000</text>
<text transform="translate(113.4 362.42) rotate(-90) scale(0.97 1)" font-size="7" text-anchor="middle" fill="#000">1150</text>
<line x1="115.4" y1="179.09" x2="183.6" y2="179.09" stroke="#000" stroke-width="0.75"/>
<line x1="115.4" y1="200.47" x2="183.6" y2="200.47" stroke="#000" stroke-width="0.75"/>
<line x1="115.4" y1="328.75" x2="183.6" y2="328.75" stroke="#000" stroke-width="0.75"/>
<line x1="115.4" y1="350.13" x2="183.6" y2="350.13" stroke="#000" stroke-width="0.75"/>
<line x1="115.4" y1="254.34" x2="151.4" y2="254.34" stroke="#000" stroke-width="0.75"/>
<line x1="115.4" y1="280" x2="151.4" y2="280" stroke="#000" stroke-width="0.75"/>
<line x1="130" y1="233.89" x2="130" y2="256.84" stroke="#000" stroke-width="0.75"/>
<line x1="127.1" y1="233.49" x2="132.9" y2="239.29" stroke="#000" stroke-width="1.1"/>
<line x1="127.1" y1="251.44" x2="132.9" y2="257.24" stroke="#000" stroke-width="1.1"/>
<text transform="translate(128 245.37) rotate(-90) scale(0.97 1)" font-size="7" text-anchor="middle" fill="#000">840</text>
<line x1="130" y1="277.5" x2="130" y2="300.89" stroke="#000" stroke-width="0.75"/>
<line x1="127.1" y1="277.1" x2="132.9" y2="282.9" stroke="#000" stroke-width="1.1"/>
<line x1="127.1" y1="295.49" x2="132.9" y2="301.29" stroke="#000" stroke-width="1.1"/>
<text transform="translate(128 289.19) rotate(-90) scale(0.97 1)" font-size="7" text-anchor="middle" fill="#000">860</text>
<line x1="130" y1="236.39" x2="151.4" y2="236.39" stroke="#000" stroke-width="0.75"/>
<line x1="130" y1="298.39" x2="151.4" y2="298.39" stroke="#000" stroke-width="0.75"/>
<line x1="773.6" y1="153.7" x2="773.6" y2="374.71" stroke="#000" stroke-width="0.75"/>
<line x1="770.7" y1="150.8" x2="776.5" y2="156.6" stroke="#000" stroke-width="1.1"/>
<line x1="770.7" y1="251.44" x2="776.5" y2="257.24" stroke="#000" stroke-width="1.1"/>
<line x1="770.7" y1="277.1" x2="776.5" y2="282.9" stroke="#000" stroke-width="1.1"/>
<line x1="770.7" y1="371.81" x2="776.5" y2="377.61" stroke="#000" stroke-width="1.1"/>
<text transform="translate(771.6 204.02) rotate(-90) scale(0.97 1)" font-size="7" text-anchor="middle" fill="#000">4670</text>
<text transform="translate(771.6 267.17) rotate(-90) scale(0.97 1)" font-size="7" text-anchor="middle" fill="#000">1200</text>
<text transform="translate(771.6 327.36) rotate(-90) scale(0.97 1)" font-size="7" text-anchor="middle" fill="#000">4430</text>
<line x1="788.4" y1="153.7" x2="788.4" y2="374.71" stroke="#000" stroke-width="0.75"/>
<line x1="785.5" y1="150.8" x2="791.3" y2="156.6" stroke="#000" stroke-width="1.1"/>
<line x1="785.5" y1="371.81" x2="791.3" y2="377.61" stroke="#000" stroke-width="1.1"/>
<text transform="translate(786.4 264.21) rotate(-90) scale(0.97 1)" font-size="7" text-anchor="middle" fill="#000">10300</text>
<line x1="758" y1="236.88" x2="758" y2="256.84" stroke="#000" stroke-width="0.75"/>
<line x1="755.1" y1="236.48" x2="760.9" y2="242.28" stroke="#000" stroke-width="1.1"/>
<line x1="755.1" y1="251.44" x2="760.9" y2="257.24" stroke="#000" stroke-width="1.1"/>
<text transform="translate(756 246.86) rotate(-90) scale(0.97 1)" font-size="7" text-anchor="middle" fill="#000">700</text>
<line x1="758" y1="277.5" x2="758" y2="297.47" stroke="#000" stroke-width="0.75"/>
<line x1="755.1" y1="277.1" x2="760.9" y2="282.9" stroke="#000" stroke-width="1.1"/>
<line x1="755.1" y1="292.07" x2="760.9" y2="297.87" stroke="#000" stroke-width="1.1"/>
<text transform="translate(756 287.48) rotate(-90) scale(0.97 1)" font-size="7" text-anchor="middle" fill="#000">700</text>
<line x1="186.82" y1="225.6" x2="701.38" y2="225.6" stroke="#000" stroke-width="0.75"/>
<line x1="183.92" y1="228.5" x2="189.72" y2="222.7" stroke="#000" stroke-width="1.1"/>
<line x1="268.07" y1="228.5" x2="273.87" y2="222.7" stroke="#000" stroke-width="1.1"/>
<line x1="269.78" y1="228.5" x2="275.58" y2="222.7" stroke="#000" stroke-width="1.1"/>
<line x1="353.83" y1="228.5" x2="359.63" y2="222.7" stroke="#000" stroke-width="1.1"/>
<line x1="355.54" y1="228.5" x2="361.34" y2="222.7" stroke="#000" stroke-width="1.1"/>
<line x1="439.59" y1="228.5" x2="445.39" y2="222.7" stroke="#000" stroke-width="1.1"/>
<line x1="441.3" y1="228.5" x2="447.1" y2="222.7" stroke="#000" stroke-width="1.1"/>
<line x1="525.35" y1="228.5" x2="531.15" y2="222.7" stroke="#000" stroke-width="1.1"/>
<line x1="527.06" y1="228.5" x2="532.86" y2="222.7" stroke="#000" stroke-width="1.1"/>
<line x1="609.39" y1="228.5" x2="615.19" y2="222.7" stroke="#000" stroke-width="1.1"/>
<line x1="611.11" y1="228.5" x2="616.91" y2="222.7" stroke="#000" stroke-width="1.1"/>
<line x1="671.03" y1="228.5" x2="676.83" y2="222.7" stroke="#000" stroke-width="1.1"/>
<line x1="672.75" y1="228.5" x2="678.55" y2="222.7" stroke="#000" stroke-width="1.1"/>
<line x1="698.48" y1="228.5" x2="704.28" y2="222.7" stroke="#000" stroke-width="1.1"/>
<text transform="translate(228.89 223.6) scale(0.92 1)" font-size="6.7" text-anchor="middle" fill="#000">3925</text>
<text transform="translate(314.71 223.6) scale(0.92 1)" font-size="6.7" text-anchor="middle" fill="#000">3920</text>
<text transform="translate(410.6 223.6) scale(0.92 1)" font-size="6.7" text-anchor="middle" fill="#000">3920</text>
<text transform="translate(486.23 223.6) scale(0.92 1)" font-size="6.7" text-anchor="middle" fill="#000">3920</text>
<text transform="translate(571.13 223.6) scale(0.92 1)" font-size="6.7" text-anchor="middle" fill="#000">3840</text>
<text transform="translate(643.97 223.6) scale(0.92 1)" font-size="6.7" text-anchor="middle" fill="#000">2795</text>
<text transform="translate(688.51 223.6) scale(0.92 1)" font-size="6.7" text-anchor="middle" fill="#000">1200</text>
<text transform="translate(274.18 223.6) scale(0.92 1)" font-size="6.7" text-anchor="start" fill="#000">80</text>
<text transform="translate(359.94 223.6) scale(0.92 1)" font-size="6.7" text-anchor="start" fill="#000">80</text>
<text transform="translate(445.7 223.6) scale(0.92 1)" font-size="6.7" text-anchor="start" fill="#000">80</text>
<text transform="translate(531.46 223.6) scale(0.92 1)" font-size="6.7" text-anchor="start" fill="#000">80</text>
<text transform="translate(610.79 223.6) scale(0.92 1)" font-size="6.7" text-anchor="end" fill="#000">80</text>
<text transform="translate(672.43 223.6) scale(0.92 1)" font-size="6.7" text-anchor="end" fill="#000">80</text>
<line x1="186.82" y1="300.5" x2="701.38" y2="300.5" stroke="#000" stroke-width="0.75"/>
<line x1="183.92" y1="303.4" x2="189.72" y2="297.6" stroke="#000" stroke-width="1.1"/>
<line x1="268.07" y1="303.4" x2="273.87" y2="297.6" stroke="#000" stroke-width="1.1"/>
<line x1="269.78" y1="303.4" x2="275.58" y2="297.6" stroke="#000" stroke-width="1.1"/>
<line x1="353.83" y1="303.4" x2="359.63" y2="297.6" stroke="#000" stroke-width="1.1"/>
<line x1="355.54" y1="303.4" x2="361.34" y2="297.6" stroke="#000" stroke-width="1.1"/>
<line x1="439.59" y1="303.4" x2="445.39" y2="297.6" stroke="#000" stroke-width="1.1"/>
<line x1="441.3" y1="303.4" x2="447.1" y2="297.6" stroke="#000" stroke-width="1.1"/>
<line x1="632.44" y1="303.4" x2="638.24" y2="297.6" stroke="#000" stroke-width="1.1"/>
<line x1="634.16" y1="303.4" x2="639.96" y2="297.6" stroke="#000" stroke-width="1.1"/>
<line x1="698.48" y1="303.4" x2="704.28" y2="297.6" stroke="#000" stroke-width="1.1"/>
<text transform="translate(228.89 298.5) scale(0.92 1)" font-size="6.7" text-anchor="middle" fill="#000">3925</text>
<text transform="translate(314.71 298.5) scale(0.92 1)" font-size="6.7" text-anchor="middle" fill="#000">3920</text>
<text transform="translate(410.6 298.5) scale(0.92 1)" font-size="6.7" text-anchor="middle" fill="#000">3920</text>
<text transform="translate(669.22 298.5) scale(0.92 1)" font-size="6.7" text-anchor="middle" fill="#000">3000</text>
<text transform="translate(539.4 298.5) scale(0.92 1)" font-size="6.7" text-anchor="middle" fill="#000">8915</text>
<text transform="translate(274.18 298.5) scale(0.92 1)" font-size="6.7" text-anchor="start" fill="#000">80</text>
<text transform="translate(359.94 298.5) scale(0.92 1)" font-size="6.7" text-anchor="start" fill="#000">80</text>
<text transform="translate(445.7 298.5) scale(0.92 1)" font-size="6.7" text-anchor="start" fill="#000">80</text>
<text transform="translate(633.84 298.5) scale(0.92 1)" font-size="6.7" text-anchor="end" fill="#000">80</text>
<line x1="400.4" y1="157.71" x2="400.4" y2="371.51" stroke="#000" stroke-width="0.75"/>
<line x1="397.5" y1="154.81" x2="403.3" y2="160.61" stroke="#000" stroke-width="1.1"/>
<line x1="397.5" y1="245.46" x2="403.3" y2="251.26" stroke="#000" stroke-width="1.1"/>
<line x1="397.5" y1="247.17" x2="403.3" y2="252.97" stroke="#000" stroke-width="1.1"/>
<line x1="397.5" y1="281.38" x2="403.3" y2="287.18" stroke="#000" stroke-width="1.1"/>
<line x1="397.5" y1="283.09" x2="403.3" y2="288.89" stroke="#000" stroke-width="1.1"/>
<line x1="397.5" y1="368.61" x2="403.3" y2="374.41" stroke="#000" stroke-width="1.1"/>
<text transform="translate(398.4 203.03) rotate(-90) scale(0.97 1)" font-size="7" text-anchor="middle" fill="#000">4240</text>
<text transform="translate(398.4 271.6) rotate(-90) scale(0.97 1)" font-size="7" text-anchor="middle" fill="#000">1600</text>
<text transform="translate(398.4 328.75) rotate(-90) scale(0.97 1)" font-size="7" text-anchor="middle" fill="#000">4000</text>
<text transform="translate(398.4 252.07) rotate(-90) scale(0.97 1)" font-size="7" text-anchor="end" fill="#000">80</text>
<text transform="translate(398.4 287.99) rotate(-90) scale(0.97 1)" font-size="7" text-anchor="end" fill="#000">80</text>
<line x1="640" y1="177.1" x2="675" y2="177.1" stroke="#000" stroke-width="0.75"/>
<line x1="637.1" y1="180" x2="642.9" y2="174.2" stroke="#000" stroke-width="1.1"/>
<line x1="672.1" y1="180" x2="677.9" y2="174.2" stroke="#000" stroke-width="1.1"/>
<text transform="translate(657.5 175.5) scale(0.92 1)" font-size="6.7" text-anchor="middle" fill="#000">1515</text>
<line x1="695" y1="81.2" x2="695" y2="96.5" stroke="#8a8a8a" stroke-width="1.1"/>
<line x1="695" y1="96.5" x2="695" y2="103" stroke="#000" stroke-width="1.6"/>
<line x1="677" y1="87.9" x2="689" y2="87.9" stroke="#777" stroke-width="0.9"/>
<path d="M695.3 87.9 L688 86.5 L688 89.3 Z" stroke="none" stroke-width="0" fill="#000"/>
<text transform="translate(681.6 82.2) scale(0.9 1)" font-size="10" text-anchor="middle" fill="#000">1</text>
<line x1="695" y1="447.5" x2="695" y2="462.8" stroke="#8a8a8a" stroke-width="1.1"/>
<line x1="695" y1="462.2" x2="695" y2="468.8" stroke="#000" stroke-width="1.6"/>
<line x1="677" y1="462.6" x2="689" y2="462.6" stroke="#777" stroke-width="0.9"/>
<path d="M695.3 462.6 L688 461.2 L688 464 Z" stroke="none" stroke-width="0" fill="#000"/>
<text transform="translate(681.6 473) scale(0.9 1)" font-size="10" text-anchor="middle" fill="#000">1</text>
</g>
<g id="table">
<line x1="954" y1="36.8" x2="1200" y2="36.8" stroke="#111" stroke-width="1"/>
<line x1="954" y1="79" x2="1200" y2="79" stroke="#111" stroke-width="1"/>
<line x1="954" y1="98.72" x2="1200" y2="98.72" stroke="#111" stroke-width="1"/>
<line x1="954" y1="118.44" x2="1200" y2="118.44" stroke="#111" stroke-width="1"/>
<line x1="954" y1="138.16" x2="1200" y2="138.16" stroke="#111" stroke-width="1"/>
<line x1="954" y1="157.88" x2="1200" y2="157.88" stroke="#111" stroke-width="1"/>
<line x1="954" y1="177.6" x2="1200" y2="177.6" stroke="#111" stroke-width="1"/>
<line x1="954" y1="197.32" x2="1200" y2="197.32" stroke="#111" stroke-width="1"/>
<line x1="954" y1="217.04" x2="1200" y2="217.04" stroke="#111" stroke-width="1"/>
<line x1="954" y1="236.76" x2="1200" y2="236.76" stroke="#111" stroke-width="1"/>
<line x1="954" y1="256.48" x2="1200" y2="256.48" stroke="#111" stroke-width="1"/>
<line x1="954" y1="276.2" x2="1200" y2="276.2" stroke="#111" stroke-width="1"/>
<line x1="954" y1="295.92" x2="1200" y2="295.92" stroke="#111" stroke-width="1"/>
<line x1="954" y1="315.64" x2="1200" y2="315.64" stroke="#111" stroke-width="1"/>
<line x1="954" y1="335.36" x2="1200" y2="335.36" stroke="#111" stroke-width="1"/>
<line x1="954" y1="355.08" x2="1200" y2="355.08" stroke="#111" stroke-width="1"/>
<line x1="954" y1="36.8" x2="954" y2="355.08" stroke="#111" stroke-width="1"/>
<line x1="986" y1="36.8" x2="986" y2="355.08" stroke="#111" stroke-width="1"/>
<line x1="1157.3" y1="36.8" x2="1157.3" y2="355.08" stroke="#111" stroke-width="1"/>
<text x="956.9" y="49.6" font-size="10.3" textLength="26.4" lengthAdjust="spacingAndGlyphs" fill="#000">Номер</text>
<text x="956.3" y="62.8" font-size="10.3" textLength="28.6" lengthAdjust="spacingAndGlyphs" fill="#000">помещ</text>
<text x="960.6" y="74.5" font-size="10.3" textLength="19.9" lengthAdjust="spacingAndGlyphs" fill="#000">ения</text>
<text x="1042.3" y="61.5" font-size="10.3" textLength="59.1" lengthAdjust="spacingAndGlyphs" fill="#000">Наименование</text>
<text x="1158.8" y="55.8" font-size="10.3" textLength="39.5" lengthAdjust="spacingAndGlyphs" fill="#000">Площадь,</text>
<text transform="translate(1177 67.5) scale(0.8 1)" font-size="10.3" text-anchor="middle" fill="#000">м</text>
<text transform="translate(1181.7 63.3) scale(0.8 1)" font-size="6.2" text-anchor="middle" fill="#000">2</text>
<text transform="translate(970 92.2) scale(0.81 1)" font-size="10.3" text-anchor="middle" fill="#000">1</text>
<text x="986.6" y="92.2" font-size="10.3" textLength="151.79" lengthAdjust="spacingAndGlyphs" fill="#000">Гостевая комната №1 (на 4 человека)</text>
<text transform="translate(1179 92.2) scale(0.81 1)" font-size="10.3" text-anchor="middle" fill="#000">16,62</text>
<text transform="translate(970 111.92) scale(0.81 1)" font-size="10.3" text-anchor="middle" fill="#000">2</text>
<text x="986.6" y="111.92" font-size="10.3" textLength="151.79" lengthAdjust="spacingAndGlyphs" fill="#000">Гостевая комната №2 (на 4 человека)</text>
<text transform="translate(1179 111.92) scale(0.81 1)" font-size="10.3" text-anchor="middle" fill="#000">16,61</text>
<text transform="translate(970 131.64) scale(0.81 1)" font-size="10.3" text-anchor="middle" fill="#000">3</text>
<text x="986.6" y="131.64" font-size="10.3" textLength="151.79" lengthAdjust="spacingAndGlyphs" fill="#000">Гостевая комната №3 (на 4 человека)</text>
<text transform="translate(1179 131.64) scale(0.81 1)" font-size="10.3" text-anchor="middle" fill="#000">16,61</text>
<text transform="translate(970 151.36) scale(0.81 1)" font-size="10.3" text-anchor="middle" fill="#000">4</text>
<text x="986.6" y="151.36" font-size="10.3" textLength="151.79" lengthAdjust="spacingAndGlyphs" fill="#000">Гостевая комната №4 (на 4 человека)</text>
<text transform="translate(1179 151.36) scale(0.81 1)" font-size="10.3" text-anchor="middle" fill="#000">16,61</text>
<text transform="translate(970 171.08) scale(0.81 1)" font-size="10.3" text-anchor="middle" fill="#000">5</text>
<text x="986.6" y="171.08" font-size="10.3" textLength="151.79" lengthAdjust="spacingAndGlyphs" fill="#000">Гостевая комната №5 (на 4 человека)</text>
<text transform="translate(1179 171.08) scale(0.81 1)" font-size="10.3" text-anchor="middle" fill="#000">16,27</text>
<text transform="translate(970 190.8) scale(0.81 1)" font-size="10.3" text-anchor="middle" fill="#000">6</text>
<text x="986.6" y="190.8" font-size="10.3" textLength="151.79" lengthAdjust="spacingAndGlyphs" fill="#000">Гостевая комната №6 (на 4 человека)</text>
<text transform="translate(1179 190.8) scale(0.81 1)" font-size="10.3" text-anchor="middle" fill="#000">15,68</text>
<text transform="translate(970 210.52) scale(0.81 1)" font-size="10.3" text-anchor="middle" fill="#000">7</text>
<text x="986.6" y="210.52" font-size="10.3" textLength="151.79" lengthAdjust="spacingAndGlyphs" fill="#000">Гостевая комната №7 (на 4 человека)</text>
<text transform="translate(1179 210.52) scale(0.81 1)" font-size="10.3" text-anchor="middle" fill="#000">15,69</text>
<text transform="translate(970 230.24) scale(0.81 1)" font-size="10.3" text-anchor="middle" fill="#000">8</text>
<text x="986.6" y="230.24" font-size="10.3" textLength="151.79" lengthAdjust="spacingAndGlyphs" fill="#000">Гостевая комната №8 (на 4 человека)</text>
<text transform="translate(1179 230.24) scale(0.81 1)" font-size="10.3" text-anchor="middle" fill="#000">15,69</text>
<text transform="translate(970 249.96) scale(0.81 1)" font-size="10.3" text-anchor="middle" fill="#000">9</text>
<text x="986.6" y="249.96" font-size="10.3" textLength="62.72" lengthAdjust="spacingAndGlyphs" fill="#000">Кухня-столовая</text>
<text transform="translate(1179 249.96) scale(0.81 1)" font-size="10.3" text-anchor="middle" fill="#000">35,60</text>
<text transform="translate(970 269.68) scale(0.81 1)" font-size="10.3" text-anchor="middle" fill="#000">10</text>
<text x="986.6" y="269.68" font-size="10.3" textLength="43.41" lengthAdjust="spacingAndGlyphs" fill="#000">Прачечная</text>
<text transform="translate(1179 269.68) scale(0.81 1)" font-size="10.3" text-anchor="middle" fill="#000">4,50</text>
<text transform="translate(970 289.4) scale(0.81 1)" font-size="10.3" text-anchor="middle" fill="#000">11</text>
<text x="986.6" y="289.4" font-size="10.3" textLength="41.82" lengthAdjust="spacingAndGlyphs" fill="#000">Котельная</text>
<text transform="translate(1179 289.4) scale(0.81 1)" font-size="10.3" text-anchor="middle" fill="#000">7,24</text>
<text transform="translate(970 309.12) scale(0.81 1)" font-size="10.3" text-anchor="middle" fill="#000">12</text>
<text x="986.6" y="309.12" font-size="10.3" textLength="33.66" lengthAdjust="spacingAndGlyphs" fill="#000">Санузел</text>
<text transform="translate(1179 309.12) scale(0.81 1)" font-size="10.3" text-anchor="middle" fill="#000">13,58</text>
<text transform="translate(970 328.84) scale(0.81 1)" font-size="10.3" text-anchor="middle" fill="#000">13</text>
<text x="986.6" y="328.84" font-size="10.3" textLength="36.07" lengthAdjust="spacingAndGlyphs" fill="#000">Душевая</text>
<text transform="translate(1179 328.84) scale(0.81 1)" font-size="10.3" text-anchor="middle" fill="#000">2,71</text>
<text transform="translate(970 348.56) scale(0.81 1)" font-size="10.3" text-anchor="middle" fill="#000">14</text>
<text x="986.6" y="348.56" font-size="10.3" textLength="20.36" lengthAdjust="spacingAndGlyphs" fill="#000">Холл</text>
<text transform="translate(1179 348.56) scale(0.81 1)" font-size="10.3" text-anchor="middle" fill="#000">38,40</text>
</g>
<g id="notes">
<text x="837.4" y="682.8" font-size="10.2" textLength="7.18" lengthAdjust="spacingAndGlyphs" fill="#000">1.</text>
<text x="859.6" y="682.8" font-size="10.2" textLength="131.88" lengthAdjust="spacingAndGlyphs" fill="#000">Основные несущие конструкции:</text>
<text x="837.6" y="695.3" font-size="10.2" textLength="2.87" lengthAdjust="spacingAndGlyphs" fill="#000">-</text>
<text x="859.6" y="695.3" font-size="10.2" textLength="26.84" lengthAdjust="spacingAndGlyphs" fill="#000">Ферма</text>
<text x="889.7" y="707.8" font-size="10.2" textLength="253.93" lengthAdjust="spacingAndGlyphs" fill="#000">- нижний пояс квадратный профиль 100х4 по ГОСТ 30245-2003</text>
<text x="889.7" y="720.3" font-size="10.2" textLength="256.87" lengthAdjust="spacingAndGlyphs" fill="#000">- верхний пояс квадратный профиль 120х4 по ГОСТ 30245-2003</text>
<text x="889.7" y="732.8" font-size="10.2" textLength="313.65" lengthAdjust="spacingAndGlyphs" fill="#000">- раскосы квадратный профиль 80х4 (опорные) и 60х4 (элементы решетки) по</text>
<text x="889.7" y="745.2" font-size="10.2" textLength="70.45" lengthAdjust="spacingAndGlyphs" fill="#000">ГОСТ 30245-2003</text>
<text x="837.6" y="757.7" font-size="10.2" textLength="2.87" lengthAdjust="spacingAndGlyphs" fill="#000">-</text>
<text x="859.6" y="757.7" font-size="10.2" textLength="238.64" lengthAdjust="spacingAndGlyphs" fill="#000">Колонны - квадратный профиль 150х5 по ГОСТ 30245-2003</text>
</g>
<g id="stamp">
<line x1="828.3" y1="771.3" x2="1200" y2="771.3" stroke="#111" stroke-width="1.5"/>
<line x1="828.3" y1="771.3" x2="828.3" y2="889" stroke="#111" stroke-width="1.5"/>
<line x1="849.7" y1="771.3" x2="849.7" y2="824.8" stroke="#111" stroke-width="1.4"/>
<line x1="892.5" y1="771.3" x2="892.5" y2="824.8" stroke="#111" stroke-width="1.4"/>
<line x1="871.1" y1="771.3" x2="871.1" y2="889" stroke="#111" stroke-width="1.4"/>
<line x1="913.9" y1="771.3" x2="913.9" y2="889" stroke="#111" stroke-width="1.4"/>
<line x1="946" y1="771.3" x2="946" y2="889" stroke="#111" stroke-width="1.4"/>
<line x1="967.4" y1="771.3" x2="967.4" y2="889" stroke="#111" stroke-width="1.5"/>
<line x1="828.3" y1="782" x2="967.4" y2="782" stroke="#222" stroke-width="1"/>
<line x1="828.3" y1="792.7" x2="967.4" y2="792.7" stroke="#222" stroke-width="1"/>
<line x1="828.3" y1="803.4" x2="967.4" y2="803.4" stroke="#222" stroke-width="1"/>
<line x1="828.3" y1="814.1" x2="967.4" y2="814.1" stroke="#111" stroke-width="1.4"/>
<line x1="828.3" y1="824.8" x2="967.4" y2="824.8" stroke="#111" stroke-width="1.4"/>
<line x1="828.3" y1="835.5" x2="967.4" y2="835.5" stroke="#222" stroke-width="1"/>
<line x1="828.3" y1="846.2" x2="967.4" y2="846.2" stroke="#222" stroke-width="1"/>
<line x1="828.3" y1="856.9" x2="967.4" y2="856.9" stroke="#222" stroke-width="1"/>
<line x1="828.3" y1="867.6" x2="967.4" y2="867.6" stroke="#222" stroke-width="1"/>
<line x1="828.3" y1="878.3" x2="967.4" y2="878.3" stroke="#222" stroke-width="1"/>
<line x1="967.4" y1="792.7" x2="1200" y2="792.7" stroke="#111" stroke-width="1.4"/>
<line x1="967.4" y1="824.8" x2="1200" y2="824.8" stroke="#111" stroke-width="1.4"/>
<line x1="967.4" y1="856.9" x2="1200" y2="856.9" stroke="#111" stroke-width="1.4"/>
<line x1="1117.2" y1="835.5" x2="1200" y2="835.5" stroke="#111" stroke-width="1.4"/>
<line x1="1117.2" y1="824.8" x2="1117.2" y2="889" stroke="#111" stroke-width="1.4"/>
<line x1="1149.3" y1="824.8" x2="1149.3" y2="856.9" stroke="#111" stroke-width="1.4"/>
<line x1="1181.4" y1="824.8" x2="1181.4" y2="856.9" stroke="#111" stroke-width="1.4"/>
<text x="833" y="821.5" font-size="7" textLength="12" lengthAdjust="spacingAndGlyphs" fill="#000">Изм.</text>
<text x="851" y="821.5" font-size="7" textLength="19" lengthAdjust="spacingAndGlyphs" fill="#000">Кол.уч.</text>
<text x="875" y="821.5" font-size="7" textLength="13.8" lengthAdjust="spacingAndGlyphs" fill="#000">Лист</text>
<text x="893.8" y="821.5" font-size="7" textLength="19.2" lengthAdjust="spacingAndGlyphs" fill="#000">№ док.</text>
<text x="923" y="821.5" font-size="7" textLength="14.5" lengthAdjust="spacingAndGlyphs" fill="#000">Подп.</text>
<text x="950" y="821.5" font-size="7" textLength="13.8" lengthAdjust="spacingAndGlyphs" fill="#000">Дата</text>
<text x="831" y="831.9" font-size="7" textLength="29.6" lengthAdjust="spacingAndGlyphs" fill="#000">Разработал</text>
<text x="831" y="843.1" font-size="7" textLength="24.6" lengthAdjust="spacingAndGlyphs" fill="#000">Проверил</text>
<text x="831" y="853.8" font-size="7" textLength="29.6" lengthAdjust="spacingAndGlyphs" fill="#000">Нач. отдела</text>
<text x="831" y="875" font-size="7" textLength="20.9" lengthAdjust="spacingAndGlyphs" fill="#000">Н. контр.</text>
<text x="831" y="885.6" font-size="7" textLength="9.6" lengthAdjust="spacingAndGlyphs" fill="#000">ГИП</text>
<text x="1124.7" y="831.8" font-size="7" textLength="18.9" lengthAdjust="spacingAndGlyphs" fill="#000">Стадия</text>
<text x="1160" y="831.8" font-size="7" textLength="11.8" lengthAdjust="spacingAndGlyphs" fill="#000">Лист</text>
<text x="1194" y="831.8" font-size="7" textLength="18.5" lengthAdjust="spacingAndGlyphs" fill="#000">Листов</text>
<text transform="translate(1195.6 896.8) scale(0.85 1)" font-size="6.5" text-anchor="start" fill="#000">Формат А1</text>
</g>
<g id="callouts">
<line x1="326.2" y1="570.8" x2="519" y2="570.8" stroke="#222" stroke-width="0.9"/>
<line x1="326.2" y1="584" x2="519" y2="584" stroke="#222" stroke-width="0.7"/>
<line x1="326.2" y1="597" x2="519" y2="597" stroke="#222" stroke-width="0.7"/>
<line x1="326.2" y1="610" x2="519" y2="610" stroke="#222" stroke-width="0.7"/>
<line x1="326.2" y1="622.7" x2="519" y2="622.7" stroke="#222" stroke-width="0.7"/>
<line x1="326.2" y1="635.6" x2="519" y2="635.6" stroke="#222" stroke-width="0.7"/>
<line x1="326.2" y1="648.4" x2="519" y2="648.4" stroke="#222" stroke-width="0.7"/>
<line x1="326.2" y1="570.8" x2="326.2" y2="676" stroke="#222" stroke-width="0.7"/>
<path d="M326.2 682.2 L324.9 674.5 L327.5 674.5 Z" stroke="none" stroke-width="0" fill="#111"/>
<text x="327" y="567.8" font-size="10.2" textLength="47.5" lengthAdjust="spacingAndGlyphs" fill="#000">ПВХ мембрана</text>
<text x="327" y="581.8" font-size="10.2" textLength="38" lengthAdjust="spacingAndGlyphs" fill="#000">Геотекстиль</text>
<text x="327" y="593.6" font-size="10.2" textLength="175" lengthAdjust="spacingAndGlyphs" fill="#000">Утеплитель ПЕНОПЛЭКС Y=30 кг/м3, толщиной 50 мм</text>
<text x="327" y="606.3" font-size="10.2" textLength="185" lengthAdjust="spacingAndGlyphs" fill="#000">Утеплитель Эковер Y=100 кг/м3, толщиной 50 мм - 2 слоя</text>
<text x="327" y="619" font-size="10.2" textLength="138" lengthAdjust="spacingAndGlyphs" fill="#000">Пароизоляция для плоских кровель, 1 слой</text>
<text x="327" y="631.8" font-size="10.2" textLength="86" lengthAdjust="spacingAndGlyphs" fill="#000">Профнастил  Н114-750-1.0</text>
<text x="327" y="644.6" font-size="10.2" textLength="72" lengthAdjust="spacingAndGlyphs" fill="#000">Металлическая ферма</text>
<line x1="546.2" y1="619.4" x2="739" y2="619.4" stroke="#222" stroke-width="0.7"/>
<line x1="546.2" y1="632.4" x2="739" y2="632.4" stroke="#222" stroke-width="0.7"/>
<line x1="546.2" y1="645" x2="739" y2="645" stroke="#222" stroke-width="0.7"/>
<line x1="546.2" y1="657.7" x2="739" y2="657.7" stroke="#222" stroke-width="0.7"/>
<line x1="546.2" y1="670.4" x2="739" y2="670.4" stroke="#222" stroke-width="0.7"/>
<line x1="546.2" y1="683.4" x2="739" y2="683.4" stroke="#222" stroke-width="0.7"/>
<path d="M546.2 619.4 L546.2 748 L492 748 L492 764" stroke="#222" stroke-width="0.7" fill="none"/>
<path d="M492 769.2 L490.7 762.5 L493.3 762.5 Z" stroke="none" stroke-width="0" fill="#111"/>
<text x="546.8" y="615.7" font-size="10.2" textLength="188.2" lengthAdjust="spacingAndGlyphs" fill="#000">Железобетонная монолитная плита из бетона В15 (М200) - 150 мм</text>
<text x="546.8" y="629.2" font-size="10.2" textLength="77.2" lengthAdjust="spacingAndGlyphs" fill="#000">Пленка  полиэтиленовая</text>
<text x="546.8" y="641.6" font-size="10.2" textLength="143.2" lengthAdjust="spacingAndGlyphs" fill="#000">Утеплитель ПЕНОПЛЭКС, толщиной 100 мм</text>
<text x="546.8" y="654.2" font-size="10.2" textLength="112.8" lengthAdjust="spacingAndGlyphs" fill="#000">Сетка армирующая Ø3 100х100 мм</text>
<text x="546.8" y="667.2" font-size="10.2" textLength="126.2" lengthAdjust="spacingAndGlyphs" fill="#000">Подготовка из песка средней крупности</text>
<text x="546.8" y="679.8" font-size="10.2" textLength="52.2" lengthAdjust="spacingAndGlyphs" fill="#000">Грунт основания</text>
</g>
<defs>
<pattern id="hatch" width="3.4" height="3.4" patternUnits="userSpaceOnUse" patternTransform="rotate(-45)"><rect width="3.4" height="3.4" fill="#fff"/><line x1="0" y1="0.5" x2="3.4" y2="0.5" stroke="#222" stroke-width="0.7"/></pattern>
<pattern id="dots" width="2.4" height="2.4" patternUnits="userSpaceOnUse"><rect width="2.4" height="2.4" fill="#555"/><circle cx="1.2" cy="1.2" r="0.85" fill="#fff"/></pattern>
<pattern id="dots2" width="3.4" height="2.6" patternUnits="userSpaceOnUse"><rect width="3.4" height="2.6" fill="#808080"/><ellipse cx="1.7" cy="1.3" rx="1.25" ry="1.0" fill="#fff"/></pattern>
<pattern id="fl1" width="3" height="3" patternUnits="userSpaceOnUse" patternTransform="rotate(-30)"><rect width="3" height="3" fill="#777"/><line x1="0" y1="1.5" x2="3" y2="1.5" stroke="#fff" stroke-width="1.5"/></pattern>
<pattern id="conc" width="13" height="7" patternUnits="userSpaceOnUse"><rect width="13" height="7" fill="#fafafa"/><circle cx="2" cy="2" r="0.5" fill="#555"/><circle cx="8" cy="5" r="0.6" fill="#444"/><circle cx="11" cy="1.5" r="0.4" fill="#777"/><circle cx="5" cy="4.5" r="0.4" fill="#888"/></pattern>
<pattern id="sand" width="5" height="4" patternUnits="userSpaceOnUse"><rect width="5" height="4" fill="#b4b4b4"/><path d="M0 3 L2 1 M2.5 3.5 L5 1.2" stroke="#fff" stroke-width="0.8"/></pattern>
</defs>
<g id="section">
<line x1="244" y1="670.5" x2="309" y2="670.5" stroke="#000" stroke-width="0.75"/>
<line x1="310.5" y1="670.5" x2="531.2" y2="670.5" stroke="#000" stroke-width="0.75"/>
<line x1="310.5" y1="670.5" x2="310.5" y2="683" stroke="#000" stroke-width="0.75"/>
<line x1="313.6" y1="664" x2="313.6" y2="839.5" stroke="#111" stroke-width="0.8"/>
<line x1="528" y1="664" x2="528" y2="839.5" stroke="#111" stroke-width="0.8"/>
<rect x="310.4" y="683.5" width="3.1" height="85.8" stroke="none" stroke-width="0" fill="url(#dots)"/>
<line x1="310.4" y1="683.5" x2="310.4" y2="769.3" stroke="#222" stroke-width="0.6"/>
<line x1="313.5" y1="683.5" x2="313.5" y2="769.3" stroke="#222" stroke-width="0.6"/>
<line x1="314.5" y1="688" x2="314.5" y2="769.3" stroke="#000" stroke-width="1.1"/>
<line x1="317.3" y1="690" x2="317.3" y2="769.3" stroke="#000" stroke-width="1.1"/>
<rect x="528" y="671" width="3.5" height="98.3" stroke="none" stroke-width="0" fill="url(#dots)"/>
<line x1="528" y1="671" x2="528" y2="769.3" stroke="#222" stroke-width="0.6"/>
<line x1="531.5" y1="671" x2="531.5" y2="769.3" stroke="#222" stroke-width="0.6"/>
<line x1="528" y1="671" x2="531.5" y2="671" stroke="#222" stroke-width="0.6"/>
<line x1="524.3" y1="684" x2="524.3" y2="769.3" stroke="#000" stroke-width="1.1"/>
<line x1="527" y1="682" x2="527" y2="769.3" stroke="#000" stroke-width="1.1"/>
<path d="M297.5 682.5 L310 682.12 L310 685.73 L297.5 686.1 Z" fill="#fff" stroke="none"/>
<path d="M300 682.62 L527.6 675.8 L527.6 678.2 L300 685.02 Z" fill="url(#dots2)" stroke="none"/>
<path d="M316 685.25 L527.6 678.9 L527.6 680.8 L316 687.15 Z" fill="url(#dots2)" stroke="none"/>
<line x1="297.5" y1="682.5" x2="527.6" y2="675.6" stroke="#111" stroke-width="0.8"/>
<line x1="297.5" y1="685.4" x2="527.6" y2="678.5" stroke="#111" stroke-width="0.8"/>
<line x1="297.5" y1="686.2" x2="316" y2="685.65" stroke="#111" stroke-width="0.8"/>
<line x1="316" y1="687.35" x2="527.6" y2="681" stroke="#111" stroke-width="0.7"/>
<line x1="297.5" y1="682.5" x2="297.5" y2="686.2" stroke="#111" stroke-width="0.9"/>
<line x1="315" y1="688.98" x2="524.5" y2="682.69" stroke="#1a1a1a" stroke-width="2.1"/>
<line x1="330" y1="710" x2="511" y2="704.12" stroke="#111" stroke-width="3.3"/>
<line x1="331" y1="709.97" x2="510" y2="704.15" stroke="#ddd" stroke-width="1.1"/>
<line x1="330" y1="708.4" x2="330" y2="711.6" stroke="#111" stroke-width="0.8"/>
<path d="M318.5 690.6 L335 708.6 L356 689.4 L378 707.2 L399 688.1 L420.5 705.8 L442 686.8 L463.5 704.4 L485 685.5 L507.5 703 L523.5 684.3" stroke="#111" stroke-width="2.4" fill="none" stroke-linejoin="miter"/>
<rect x="332.6" y="711.37" width="2.8" height="57.93" stroke="none" stroke-width="0" fill="url(#dots)"/>
<line x1="332.6" y1="711.37" x2="332.6" y2="769.3" stroke="#333" stroke-width="0.5"/>
<line x1="335.4" y1="711.37" x2="335.4" y2="769.3" stroke="#333" stroke-width="0.5"/>
<rect x="333" y="786.3" width="2" height="30.2" stroke="none" stroke-width="0" fill="#555"/>
<rect x="353.8" y="710.68" width="2.8" height="58.62" stroke="none" stroke-width="0" fill="url(#dots)"/>
<line x1="353.8" y1="710.68" x2="353.8" y2="769.3" stroke="#333" stroke-width="0.5"/>
<line x1="356.6" y1="710.68" x2="356.6" y2="769.3" stroke="#333" stroke-width="0.5"/>
<rect x="354.2" y="786.3" width="2" height="30.2" stroke="none" stroke-width="0" fill="#555"/>
<rect x="404" y="709.05" width="2.8" height="60.25" stroke="none" stroke-width="0" fill="url(#dots)"/>
<line x1="404" y1="709.05" x2="404" y2="769.3" stroke="#333" stroke-width="0.5"/>
<line x1="406.8" y1="709.05" x2="406.8" y2="769.3" stroke="#333" stroke-width="0.5"/>
<rect x="404.4" y="786.3" width="2" height="30.2" stroke="none" stroke-width="0" fill="#555"/>
<rect x="440" y="707.88" width="2.8" height="61.42" stroke="none" stroke-width="0" fill="url(#dots)"/>
<line x1="440" y1="707.88" x2="440" y2="769.3" stroke="#333" stroke-width="0.5"/>
<line x1="442.8" y1="707.88" x2="442.8" y2="769.3" stroke="#333" stroke-width="0.5"/>
<rect x="440.4" y="786.3" width="2" height="30.2" stroke="none" stroke-width="0" fill="#555"/>
<rect x="473.9" y="706.78" width="2.8" height="62.52" stroke="none" stroke-width="0" fill="url(#dots)"/>
<line x1="473.9" y1="706.78" x2="473.9" y2="769.3" stroke="#333" stroke-width="0.5"/>
<line x1="476.7" y1="706.78" x2="476.7" y2="769.3" stroke="#333" stroke-width="0.5"/>
<rect x="474.3" y="786.3" width="2" height="30.2" stroke="none" stroke-width="0" fill="#555"/>
<line x1="255" y1="769.3" x2="310.6" y2="769.3" stroke="#000" stroke-width="0.75"/>
<rect x="321.5" y="769.3" width="198.5" height="2.9" stroke="none" stroke-width="0" fill="url(#fl1)"/>
<rect x="321.5" y="772.2" width="198.5" height="2.8" stroke="none" stroke-width="0" fill="url(#dots2)"/>
<rect x="321.5" y="775" width="198.5" height="4" stroke="none" stroke-width="0" fill="url(#sand)"/>
<rect x="321.5" y="779" width="198.5" height="7.3" stroke="none" stroke-width="0" fill="url(#conc)"/>
<line x1="321.5" y1="769.3" x2="520" y2="769.3" stroke="#222" stroke-width="0.6"/>
<line x1="321.5" y1="772.2" x2="520" y2="772.2" stroke="#222" stroke-width="0.6"/>
<line x1="321.5" y1="775" x2="520" y2="775" stroke="#222" stroke-width="0.6"/>
<line x1="321.5" y1="779" x2="520" y2="779" stroke="#222" stroke-width="0.6"/>
<line x1="321.5" y1="769.3" x2="520" y2="769.3" stroke="#111" stroke-width="0.8"/>
<line x1="332.9" y1="769.3" x2="332.9" y2="786.3" stroke="#333" stroke-width="0.6"/>
<line x1="335.1" y1="769.3" x2="335.1" y2="786.3" stroke="#333" stroke-width="0.6"/>
<line x1="354.1" y1="769.3" x2="354.1" y2="786.3" stroke="#333" stroke-width="0.6"/>
<line x1="356.3" y1="769.3" x2="356.3" y2="786.3" stroke="#333" stroke-width="0.6"/>
<line x1="404.3" y1="769.3" x2="404.3" y2="786.3" stroke="#333" stroke-width="0.6"/>
<line x1="406.5" y1="769.3" x2="406.5" y2="786.3" stroke="#333" stroke-width="0.6"/>
<line x1="440.3" y1="769.3" x2="440.3" y2="786.3" stroke="#333" stroke-width="0.6"/>
<line x1="442.5" y1="769.3" x2="442.5" y2="786.3" stroke="#333" stroke-width="0.6"/>
<line x1="474.2" y1="769.3" x2="474.2" y2="786.3" stroke="#333" stroke-width="0.6"/>
<line x1="476.4" y1="769.3" x2="476.4" y2="786.3" stroke="#333" stroke-width="0.6"/>
<rect x="308.5" y="769.3" width="13" height="17" stroke="#111" stroke-width="0.7" fill="url(#hatch)"/>
<rect x="520" y="769.3" width="12" height="17" stroke="#111" stroke-width="0.7" fill="url(#hatch)"/>
<rect x="288.5" y="770.7" width="20" height="15.6" stroke="none" stroke-width="0" fill="url(#conc)"/>
<line x1="288.5" y1="770.7" x2="308.5" y2="770.7" stroke="#222" stroke-width="0.6"/>
<rect x="532" y="770.7" width="21" height="15.6" stroke="none" stroke-width="0" fill="url(#conc)"/>
<line x1="532" y1="770.7" x2="553" y2="770.7" stroke="#222" stroke-width="0.6"/>
<line x1="285" y1="786.3" x2="556" y2="786.3" stroke="#111" stroke-width="0.7"/>
<line x1="531" y1="769.3" x2="553" y2="769.3" stroke="#000" stroke-width="0.75"/>
<path d="M288.5 767.5 L288.5 776.2 L284.6 777.4 L292 778.6 L288.5 779.6 L288.5 789.5" stroke="#111" stroke-width="0.6" fill="none"/>
<path d="M553 767.5 L553 776.2 L549.4 777.4 L557 778.6 L553 779.6 L553 789.5" stroke="#111" stroke-width="0.6" fill="none"/>
<path d="M416.5 786.3 L419 786.3 L420 781.5 L421.4 790.5 L422.4 786.3 L425 786.3" stroke="#222" stroke-width="0.6" fill="none"/>
<line x1="203" y1="657.4" x2="244" y2="657.4" stroke="#000" stroke-width="0.75"/>
<line x1="244" y1="657.4" x2="244" y2="670.5" stroke="#000" stroke-width="0.75"/>
<path d="M240 666.1 L244 670.5 L248 666.1" stroke="#111" stroke-width="0.7" fill="none"/>
<text transform="translate(222.5 655.6) scale(0.77 1)" font-size="10.5" text-anchor="middle" fill="#000">+4,600</text>
<line x1="265" y1="698" x2="295.5" y2="698" stroke="#000" stroke-width="0.75"/>
<line x1="295.5" y1="698" x2="295.5" y2="710.5" stroke="#000" stroke-width="0.75"/>
<path d="M291.5 706.1 L295.5 710.5 L299.5 706.1" stroke="#111" stroke-width="0.7" fill="none"/>
<text transform="translate(280.5 696.2) scale(0.77 1)" font-size="10.5" text-anchor="middle" fill="#000">+2,725</text>
<line x1="292" y1="710.5" x2="330" y2="710.5" stroke="#000" stroke-width="0.75"/>
<line x1="357" y1="756" x2="396.5" y2="756" stroke="#000" stroke-width="0.75"/>
<line x1="396.5" y1="756" x2="396.5" y2="769.3" stroke="#000" stroke-width="0.75"/>
<path d="M392.5 764.9 L396.5 769.3 L400.5 764.9" stroke="#111" stroke-width="0.7" fill="none"/>
<text transform="translate(376 754.2) scale(0.77 1)" font-size="10.5" text-anchor="middle" fill="#000">0,000</text>
<text transform="translate(376 766.3) scale(0.76 1)" font-size="10.5" text-anchor="middle" fill="#000">Ур. ч. п.</text>
<path d="M429.5 659.2 L419.2 666.6 L430.5 666.6" stroke="#111" stroke-width="0.8" fill="none"/>
<text transform="translate(438.3 666.4) scale(0.88 1)" font-size="11" text-anchor="middle" fill="#000">3%</text>
<line x1="395" y1="648.4" x2="519" y2="648.4" stroke="#222" stroke-width="0.7"/>
<line x1="258" y1="670.5" x2="258" y2="769.3" stroke="#000" stroke-width="0.75"/>
<line x1="255.1" y1="667.6" x2="260.9" y2="673.4" stroke="#000" stroke-width="1.1"/>
<line x1="255.1" y1="679.5" x2="260.9" y2="685.3" stroke="#000" stroke-width="1.1"/>
<line x1="255.1" y1="766.4" x2="260.9" y2="772.2" stroke="#000" stroke-width="1.1"/>
<text transform="translate(256 676.45) rotate(-90) scale(0.97 1)" font-size="7" text-anchor="middle" fill="#000">545</text>
<text transform="translate(256 725.85) rotate(-90) scale(0.97 1)" font-size="7" text-anchor="middle" fill="#000">4055</text>
<line x1="258" y1="682.4" x2="297" y2="682.4" stroke="#000" stroke-width="0.75"/>
<line x1="310.6" y1="816.5" x2="531" y2="816.5" stroke="#000" stroke-width="0.75"/>
<line x1="310.7" y1="819.4" x2="316.5" y2="813.6" stroke="#000" stroke-width="1.1"/>
<line x1="330.2" y1="819.4" x2="336" y2="813.6" stroke="#000" stroke-width="1.1"/>
<line x1="331.9" y1="819.4" x2="337.7" y2="813.6" stroke="#000" stroke-width="1.1"/>
<line x1="351.4" y1="819.4" x2="357.2" y2="813.6" stroke="#000" stroke-width="1.1"/>
<line x1="353.1" y1="819.4" x2="358.9" y2="813.6" stroke="#000" stroke-width="1.1"/>
<line x1="401.6" y1="819.4" x2="407.4" y2="813.6" stroke="#000" stroke-width="1.1"/>
<line x1="403.3" y1="819.4" x2="409.1" y2="813.6" stroke="#000" stroke-width="1.1"/>
<line x1="437.6" y1="819.4" x2="443.4" y2="813.6" stroke="#000" stroke-width="1.1"/>
<line x1="439.3" y1="819.4" x2="445.1" y2="813.6" stroke="#000" stroke-width="1.1"/>
<line x1="471.5" y1="819.4" x2="477.3" y2="813.6" stroke="#000" stroke-width="1.1"/>
<line x1="473.2" y1="819.4" x2="479" y2="813.6" stroke="#000" stroke-width="1.1"/>
<line x1="525.1" y1="819.4" x2="530.9" y2="813.6" stroke="#000" stroke-width="1.1"/>
<text transform="translate(322.95 814.5) scale(0.92 1)" font-size="6.7" text-anchor="middle" fill="#000">910</text>
<text transform="translate(344.15 814.5) scale(0.92 1)" font-size="6.7" text-anchor="middle" fill="#000">910</text>
<text transform="translate(380.25 814.5) scale(0.92 1)" font-size="6.7" text-anchor="middle" fill="#000">2260</text>
<text transform="translate(423.35 814.5) scale(0.92 1)" font-size="6.7" text-anchor="middle" fill="#000">1600</text>
<text transform="translate(458.3 814.5) scale(0.92 1)" font-size="6.7" text-anchor="middle" fill="#000">1500</text>
<text transform="translate(502.05 814.5) scale(0.92 1)" font-size="6.7" text-anchor="middle" fill="#000">2420</text>
<text transform="translate(317 799.9) scale(0.92 1)" font-size="6.7" text-anchor="middle" fill="#000">80</text>
<line x1="312.5" y1="801.5" x2="321.5" y2="801.5" stroke="#000" stroke-width="0.75"/>
<line x1="321.5" y1="801.5" x2="333.5" y2="816.5" stroke="#000" stroke-width="0.75"/>
<text transform="translate(372 799.9) scale(0.92 1)" font-size="6.7" text-anchor="middle" fill="#000">80</text>
<line x1="368" y1="801.5" x2="376.5" y2="801.5" stroke="#000" stroke-width="0.75"/>
<line x1="368" y1="801.5" x2="355" y2="816.5" stroke="#000" stroke-width="0.75"/>
<text transform="translate(388 799.9) scale(0.92 1)" font-size="6.7" text-anchor="middle" fill="#000">80</text>
<line x1="384" y1="801.5" x2="393" y2="801.5" stroke="#000" stroke-width="0.75"/>
<line x1="393" y1="801.5" x2="405.5" y2="816.5" stroke="#000" stroke-width="0.75"/>
<text transform="translate(424 799.9) scale(0.92 1)" font-size="6.7" text-anchor="middle" fill="#000">80</text>
<line x1="420" y1="801.5" x2="428" y2="801.5" stroke="#000" stroke-width="0.75"/>
<line x1="428" y1="801.5" x2="441" y2="816.5" stroke="#000" stroke-width="0.75"/>
<text transform="translate(458 799.9) scale(0.92 1)" font-size="6.7" text-anchor="middle" fill="#000">80</text>
<line x1="454" y1="801.5" x2="462" y2="801.5" stroke="#000" stroke-width="0.75"/>
<line x1="462" y1="801.5" x2="475" y2="816.5" stroke="#000" stroke-width="0.75"/>
<line x1="313.6" y1="831.2" x2="528" y2="831.2" stroke="#000" stroke-width="0.75"/>
<line x1="310.7" y1="834.1" x2="316.5" y2="828.3" stroke="#000" stroke-width="1.1"/>
<line x1="525.1" y1="834.1" x2="530.9" y2="828.3" stroke="#000" stroke-width="1.1"/>
<text transform="translate(421 829.2) scale(0.92 1)" font-size="6.7" text-anchor="middle" fill="#000">10000</text>
<circle cx="313.6" cy="850.5" r="11" stroke="#111" stroke-width="1" fill="#fff"/>
<text transform="translate(313.6 855.7) scale(0.68 1)" font-size="14.6" text-anchor="middle" fill="#000">Б</text>
<circle cx="528" cy="850.5" r="11" stroke="#111" stroke-width="1" fill="#fff"/>
<text transform="translate(528 855.7) scale(0.68 1)" font-size="14.6" text-anchor="middle" fill="#000">А</text>
</g>
</svg>
</body></html>
